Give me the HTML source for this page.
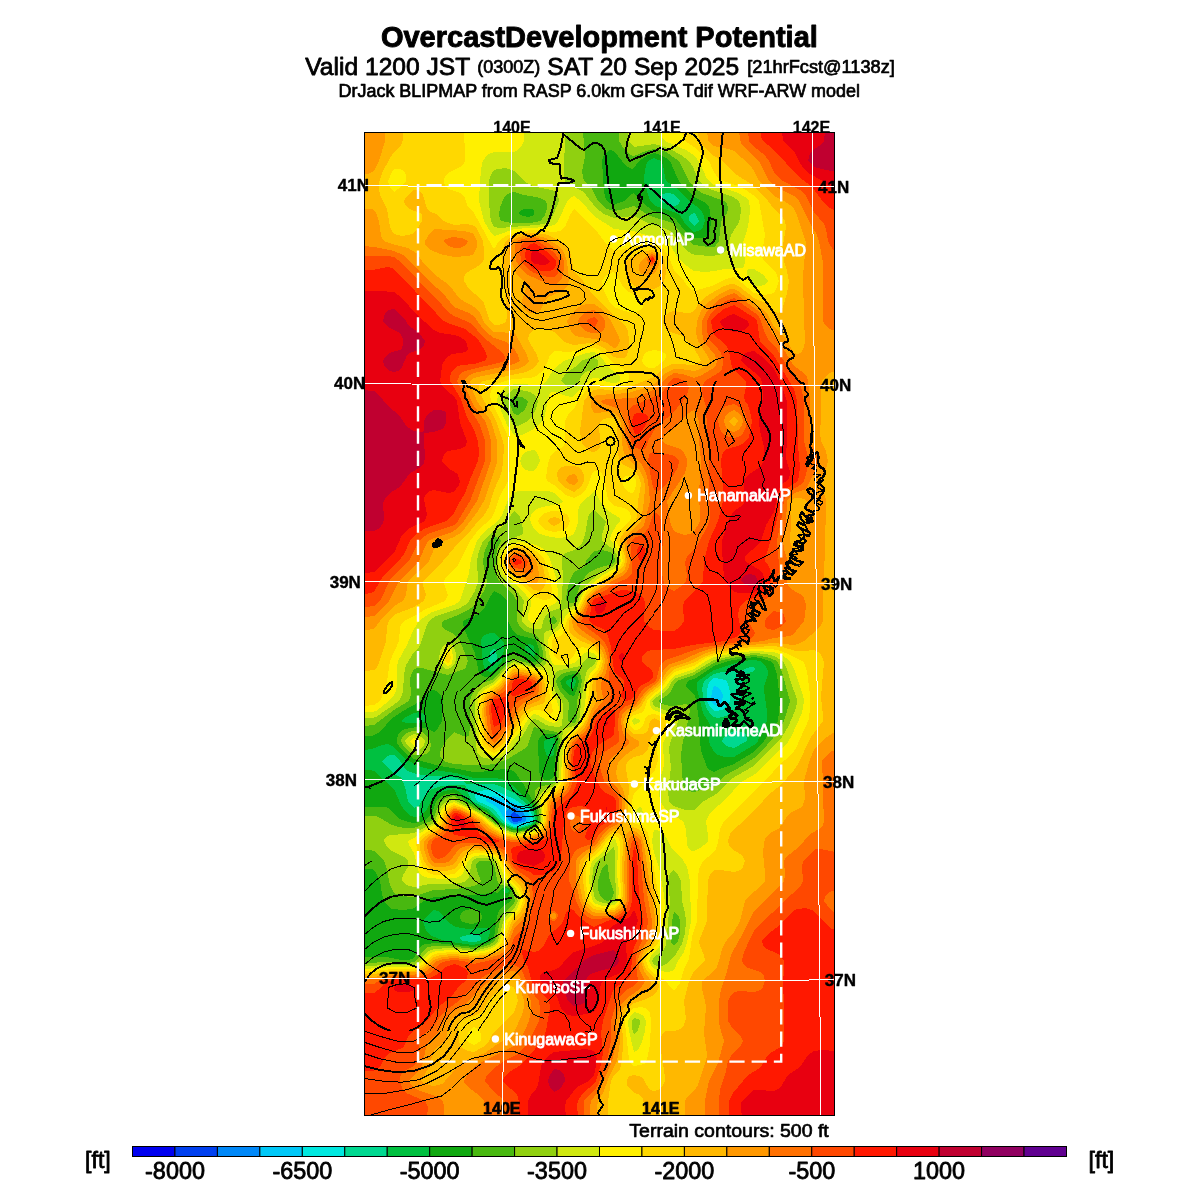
<!DOCTYPE html>
<html><head><meta charset="utf-8"><title>OvercastDevelopment Potential</title>
<style>
html,body{margin:0;padding:0;background:#fff;}
svg{display:block;font-family:"Liberation Sans",sans-serif;}
text{stroke-linejoin:round}
.k{stroke:#000}
</style></head>
<body>
<svg width="1200" height="1200" viewBox="0 0 1200 1200">
<rect width="1200" height="1200" fill="#fff"/>
<text class="k" stroke-width="0.9" x="380.9" y="46.6" font-size="30" font-weight="bold" textLength="437" lengthAdjust="spacingAndGlyphs">OvercastDevelopment Potential</text>
<text class="k" stroke-width="0.8" x="305.3" y="74.7" font-size="24.6">Valid 1200 JST</text>
<text class="k" stroke-width="0.7" x="477.3" y="73.3" font-size="18">(0300Z)</text>
<text class="k" stroke-width="0.8" x="547.3" y="74.7" font-size="24.6">SAT 20 Sep 2025</text>
<text class="k" stroke-width="0.7" x="747.3" y="73.3" font-size="18.2">[21hrFcst@1138z]</text>
<text class="k" stroke-width="0.7" x="338.5" y="97.4" font-size="18" textLength="521.5" lengthAdjust="spacingAndGlyphs">DrJack BLIPMAP from RASP 6.0km GFSA Tdif WRF-ARW model</text>
<text x="512.0" y="133.4" font-size="16" font-weight="bold" text-anchor="middle" class="k" stroke-width="0.3">140E</text>
<text x="662.0" y="133.4" font-size="16" font-weight="bold" text-anchor="middle" class="k" stroke-width="0.3">141E</text>
<text x="811.5" y="133.4" font-size="16" font-weight="bold" text-anchor="middle" class="k" stroke-width="0.3">142E</text>
<clipPath id="mapclip"><rect x="364" y="132" width="471" height="984"/></clipPath>
<g clip-path="url(#mapclip)" shape-rendering="crispEdges">
<rect x="364" y="131" width="472" height="985" fill="#0040f0"/>
<path fill="#0088f8" d="M364 131l472 0 0 986-472 0zM514 812l-2 1-1 2 0 2 1 4 2 1 7-1 1-2-2-3z"/>
<path fill="#00c8f8" d="M364 131l472 0 0 986-472 0zM508 809l-2 2 0 2 1 4 2 4 5 3 7-1 5-2 0-4-2-3-3-3-7-4z"/>
<path fill="#00e8e0" d="M364 131l472 0 0 986-472 0zM490 797l-4 2 0 2 6 3 5 3 9 14 2 1 6 3 4 0 6-1 6-3 0-4-2-4-4-4-4-3-6-3-20-7zM714 686l-2 5-1 8 0 2 3 4 2 0 4-2 2-2 1-6-3-6-3-2z"/>
<path fill="#00d890" d="M364 131l472 0 0 986-472 0zM480 791l-4 2-1 2 0 2 2 4 9 4 6 3 5 5 6 8 3 2 8 4 4 0 8-2 7-4-1-6-2-4-4-4-12-8-20-9-8 0zM714 678l-4 3-2 4-1 6 0 6 0 4 3 6 4 4 2 0 6-1 6-5 2-4 0-8-1-6-2-6-5-2z"/>
<path fill="#00c040" d="M364 131l472 0 0 986-472 0zM386 757l-4 4 1 2 8 8 3 3 6 3 2 2 3 8 3 14 6 7 4-2 2-2 6-10 6-5 10-3 12-1 8 0 2 0 2 2 3 8 3 6 16 8 5 4 7 8 6 4 8 3 6 0 10-3 5-4-1-8-4-6-16-14-12-6-8-3-28 0-2-3-10-4-24-1-14-2-6-2-4-2-6-9-6-6-4 0zM494 648l-2 2-2 3-2 8 2 2 4 2 3-4 0-4-1-6zM662 194l-2 3 0 4 4 2 10 3 3-1 2-2 1-2-6-7-6-1zM690 215l-1 2 0 4 5 5 2-1 3-4-3-6-2-2zM750 667l-10 4-18 1-8 2-10 7-2 8 2 12 3 8 5 7 2 1 4 1 8-2 6-4 6-7 3-4 0-16 2-8 3-3 8-3 1-2-1-2zM468 935l-8 2 0 2 2 2 12 1 6-1 1-2 0-2-3-2-4-1zM734 731l-8 4-2 2-2 4 4 5 4 1 4 1 13-7 0-2-1-4-2-2-4-1z"/>
<path fill="#10a810" d="M364 131l472 0 0 986-472 0 0-347 6 0 4 1 11 10 10 10 6 14 4 6 4 4 5 2 6-1 4-3 3-4 5-10 4-4 8-4 10-2 6 3 8 9 18 9 6 5 6 6 6 4 6 3 4 1 4 0 10-2 6-3 2-3 1-2-2-8-3-6-18-19-12-7-8-1-20 0-18-5-22-3-10-2-10-4-8-5-7-6-5-6-6-3-6 1-10 4-8 1zM414 713l-8 4-5 4 5 2 8 0 6 0 6-2 0-4-2-3-4-2zM490 633l-6 2-2 2-1 4 2 22 2 6 3 2 2 1 4-1 8-10 2-12 0-6-2-3-8-7zM526 645l-1 2 0 2 2 4 3 3 4 1 1-4-1-7-4-2zM548 739l-4 2 0 6 2 7 2 3 2 0 2-1 2-2 1-13-1-3zM570 679l-4 2 0 2 2 3 2 2 4 0 2-7-2-3zM648 161l-2 4-2 12 0 4 6 20 4 4 4 2 16 5 4 2 3 3 5 8 6 6 2 1 6-2 3-3 2-6-1-5-2-4-4-5-7-4-13-14-12-8-1-4-2-12-2-4-5-2-2-1zM742 661l-28 9-16 11-1 2 0 6 5 20 2 6 4 6 2 4-1 16 1 4 5 8 3 2 6 2 10 0 20-12 4-4 4-12 5-8 0-2 0-8-3-20 0-4 2-6 2-6 0-4-2-4-3-4-3-2-6-1zM428 915l-5 6 2 6 1 4 2 2 4 3 13 5 27 4 10-2 5-2 1-2 2-6 0-2-2-3-4 0-16 1-12-2-7-4-7-9-4-3-4-1zM506 888l-2 1-1 2 3 2 2 0 1-2-1-2z"/>
<path fill="#48b810" d="M364 131l472 0 0 986-472 0 0-160 22 0 16 3 6 0 6-2 6-11 2-2 4-1 10-1 38 4 8-2 6-2 4-2 2-3 3-21 2-6 3-4 9-6-3-4 3-6-1-2-4-2-5 2-3 4-4-1-10 2-50 3-10 4-10 7-2 1-10 1-8-1-2 0-5-4-3-5-2-6-2-13-4-8-2-3-2-1-8 0 0-62 16 0 6 0 4 2 7 8 5 3 6 2 6 1 10-2 4-3 4-5 4-11 4-5 6-3 8-1 6 3 5 5 21 11 9 9 6 4 11 5 8 1 10-3 5-3 3-4 0-2-1-8-3-7-10-19-7-10-3-4-4-1-6-1-24 3-6 0-16-3-18-3-26-7-8-5-5-5-4-6 0-4 2-6 3-3 8-2 8-1 10 2 6 3 2-1 2-3 4-7 1-20-2-6-5-4-2-1-2 0-4 2-7 9-18 10-9 6-5 4-6 8-5 4-6 3-8 0zM494 591l-4 6-5 10-3 4-4 3-15 7 0 2 1 6 11 24 4 20 3 3 4 1 4 0 4-2 12-14 4-6 4-4 11 8 5 2 4 1 4-1 1-4 0-8-3-8-2-2-16-4-3-2-3-4-4-8 0-20-8-7zM524 209l-4 2-1 2 1 2 4 1 4 1 4-1 2-2 0-3-2-2-4 0zM544 734l-4 3-2 4 1 30 1 4 2 3 2 2 4 0 4-1 2-3 1-15 3-20-1-4-3-3zM566 676l-4 3-2 2 1 2 1 4 4 5 4 3 4 1 3-7 2-8-1-3-2-3-2-1zM608 151l-4 4-2 6 2 30 1 6 2 4 5 3 2 1 2-1 8-3 6-6 4-2 9 10 9 7 22 8 3 3 8 10 7 6 2 1 8 0 4-1 2-1 2-5 1-10-1-10-1-4-3-4-12-6-15-16-3-6-5-12-3-4-8-4-6-2-2 1-4 1-6 4-3 2-5 7-2 1-4-2-2-1-12-15-4-1zM740 659l-12 2-14 5-18 12-8 3-2 4 0 2 8 7 2 5 3 22 1 20 1 10 6 16 1 2 4 2 2 1 8-4 12-4 20-12 10-11 14-20 1-10 1-10-3-26-3-10-4-4-10-3-6-1zM472 909l4 0 5 4 1 4-1 4-5 2-4 1-6-1-5-2-1-4 1-4 5-3z"/>
<path fill="#90d010" d="M364 131l219 0 2 26-3 14 1 6 1 4 8 8 6 12 4 4 5 4 7 2 6-1 14-4 16 10 6 2 11 3 5 2 2 2 10 12 10 8 14 2 6 0 2-2 3-4 2-18 1-4 5-6 1-4-1-6-3-2-22-8-6-4-7-8-10-20-13-9-6-2-6-1-8 2-12 5-4-1-6-6-5-8 0-10 217 0 0 986-472 0 0-154 26-1 17 1 7-1 2-1 8-11 4-3 6-1 14 0 26 3 8-2 7-2 6-4 2-6 3-14 3-6 3-4 8-7 1-3-3-12-4-3-7-1-3-2-1-4-2-10-1-5-4-3-4 0-6 0-3 2-1 2 1 6 4 10-3 3-4 2-18 3-22 1-22 7-10-1-6-2-2-1-3-6-2-6-2-12-3-8-10-10-4-1-6 0 0-34 12 0 6 3 8 5 8 3 8 1 8 0 17-7 3-3 3-9 3-6 6-5 8-2 11 7 17 9 14 12 10 5 6 3 4 0 8-1 8-2 4-3 4-5-1-10-4-12 0-8 1-2 3-2 13-3 2-1 2-2 1-6 0-14 3-20-1-6-3-3-22-5-6 18-2 3-12 7-6 4-8 3-6 2-8 1-16 0-16-1-8-2-2-1-4-4 0-4 1-4 5-8 6-7 2-2 2 1 10 4 2-1 1-1 1-8 0-26 2-6 4-8 4-3 14-5 12-14 8-6 20 6 6-2 3-2 0-10-4-12-3-4-11-4-5-4-3-6 0-20-3-5-15-15-2-4-2-8 1-10 1-10 4-8-1-2-4-2-2 0-5 4-5 12-1 10 4 18-2 8-7 12-4 5-6 4-10 5-15 6-1 2 0 4 2 2 10 5 6 7 8 20-2 6-2 2-16 6-4-1-22-6-4 0-4 1-2 4-2 6 1 16-2 6-15 9-20 15-10 1zM510 193l-4 2-2 3-4 9-1 8 1 4 1 2 11 2 18 0 10-2 2-2 3-4 2-6 0-4-1-4-4-2-6-2-12-2-10-3zM552 617l-3 4 1 2 4 1 3-3-1-2-2-3zM594 551l-8 10-1 4-3 3-8 4-2 4-3 7-2 8-1 8 1 2 1 1 2 1 4 0 1-2 5-16 5-8 3-4 10-5 14-4 2-1 1-2-1-6-4-3-8-2zM738 657l-16 3-8 3-20 12-17 6-3 4-4 8-4 3-8 5 4 3 8 2 4 0 12-2 2 1 1 2 1 4-2 10-3 14-2 6-2 14 2 30 2 4 3 2 6 1 20-6 12-11 16-9 12-8 8-7 5-6 12-14 5-10 6-20-9-32-4-8-7-3-10-2-6-1zM514 396l-4 5 0 4 4 9 4 1 4-3 3-3 2-4 1-4-6-4zM572 671l-8 2-4 2-2 2-2 4 2 6 2 4 8 10 1 2-1 14 0 4 2 1 4 1 2-2 1-4 0-16 3-10 2-10-1-4-1-4-4-2zM606 864l-4 5-2 5-2 7 0 8 1 4 2 4 3 3 4 1 4-2 2-6-5-16-1-11zM674 912l-2 9-1 16 0 6 3 3 4-5 2-8 0-8 0-4-1-4-3-4zM412 731l4 0 6 1 6 5 2 4 1 4-1 5-2 3-6 2-8 0-6-4-4-4-3-6 1-4 5-4z"/>
<path fill="#d0e810" d="M364 131l201 0-1 44 1 6 1 2 2 2 8 3 6 3 4 4 10 13 8 6 10 4 20-2 16 8 14 4 6 3 4 4 11 14 7 5 4 1 16 1 6-1 4-1 2-1 3-4 4-14 7-11 2-5 1-10-2-8-6-4-21-7-8-4-5-5-6-14-4-6-8-6-9-5-10-4-8-2-20 3-6-6 0-10 208 0 0 986-472 0 0-151 26-1 16 0 8 0 6-4 4-6 4-4 6-2 16-1 24 3 8-2 8-2 4-2 4-4 6-22 3-4 8-8 3-6-4-12-4-4-5-2-3-3-7-19-1-1-6-2-10 0-4 1-2 2-3 16-1 2-4 3-10 2-24 0-16 3-8-2-4-4 0-2 1-4 5-8 0-6-4-4-10-5-4-2-4-5-2-4 0-1 2-3 4-2 16-1 8-1 18-9 3-3 4-10 3-6 6-4 6-1 26 13 16 12 6 4 8 3 6 1 10-1 8-2 4-4 3-5 0-2 0-8-3-10 1-6 2-2 3-3 10-4 4-5 1-6 0-14 4-30 1-2 2-1 8-2 5-5 1-6 1-14 5-28 2-4 6-4 2-4-1-2-1-1-2-1-4 1-2 1-4 5-2 2-20 4-4 2-2 2-1 7 1 7 2 5 6 8 1 4 0 8-1 13-4 1-8-1-4-1-8-5-4-1-3 2-8 14-9 10-4 6-6 5-6 2-6 1-8-1-4-2-3-3-1-10-1-30 0-12 1-4 2-4 3-4 5-3 8-4 12-14 6-5 2-1 4 1 16 4 6 0 5-2 2-4-3-20 0-8 3-2 7-2 3-2 3-6 2-10 2-2 10-3 1-1 3-4 5-12 3-4 14-12 14-7 4-5-1-6-3-5-12-9 0-6 4-14-12-11-4 3-2 4-3 18-3 8-4 4-4 3-9 3-2 2-1 2 0 4 1 18-2 28-3 2-7 2-5 4-3 6-1 6-2 2-6 0-4-1-5-3-3-4 0-6 2-14-7-10-15-14-2-4-2-6 0-6 0-4 2-6 2-4 4-4 8-5 7-3 2-2 0-4-3-12-2-3-4-3-10 14-4 3-6 3-3 2-8 8-4 10-2 10 1 20-3 10-6 10-4 4-7 4-22 7-7 5-3 6-5 16-2 4-5 5-8 13-2 10-1 16-1 4-2 4-1 2-23 16-4 1-8 0zM498 169l-4 1-1 1-2 4-2 6 0 20 1 14 1 6 3 6 6 1 36-3 8-1 6-3 4-8 5-12-1-6-2-3-4-2-16-3-6-2-6-4-5-6-5-4-8-3zM586 359l-5 2-3 4-12 8-4 6-1 2 2 2 5 4 6 0 5-6 3-6 2-2 4-2 6-2 3-2 1-2 0-4-2-2-2-1-2-1zM634 1018l-2 3 0 2 0 5 2 6 2-1 2-3 2-7 0-2-2-2zM736 655l-22 5-20 12-18 6-4 3-3 6-3 4-12 8-2 2 2 5 18 7 4 4 2 4-2 8-6 14-1 6 2 18-3 24 1 10 3 4 4 2 10 3 8 0 10-9 14-8 13-14 21-12 14-13 16-17 6-10 7-16 2-8 0-4-6-16-4-14-4-8-9-5-8-2-12-1zM614 846l-9 9-8 6-3 5-1 3-1 12 2 15 3 5 7 2 6 1 4-2 1-1 1-2 0-8-1-16 0-22zM506 395l-3 6 3 10 5 10 3 5 4 0 4-2 4-2 6-6 4-7 2-8-3-6-5-3-10-2-6-1zM674 870l-4 3-2 8 2 20-4 44-3 6-9 6-2 4 2 4 4 1 4 0 4-2 10-10 6-10 3-11 1-12-1-8-3-12-1-20-3-6zM444 645l4-2 4 2 2 2 2 6 0 6-1 4-3 4-4 2-2 0-3-2-2-4-2-4 1-8zM414 734l4 1 3 2 3 3 1 1-1 4-3 4-3 1-4 1-4-3-3-3-2-4 3-4z"/>
<path fill="#fff000" d="M364 131l160 0 0 10-2 4-4 5-4 2-2 0-18 0-3 1-5 3-4 7-2 18-1 20 5 20 6 10 4 5 12-4 8-3 32-2 8-2 4-4 10-21 2-2 4-2 7 5 13 15 20 13 20 2 8 3 12 2 10 4 6 5 8 13 6 6 10 7 12 1 8-1 10-2 18-1 2-1 1-6-2-18 4-12 2-10 1-12-1-8-4-4-7-4-24-8-5-4-3-4-5-12-4-6-5-5-6-4-21-9-4-4 0-2 0-4 175 0 0 986-472 0 0-148 28-2 22 0 7-4 9-10 6-2 16-1 22 2 10-1 8-3 4-2 4-5 6-20 3-4 8-8 3-8-1-6-3-6-2-3-8-7-2-4-6-14-4-4-12-2-6 1-4 1-4 4-5 12-3 3-4 2-12 1-16-1-6-2-3-3-5-20-5-8-1-4 6-3 6-5 14-8 4-4 3-10 3-4 4-3 6-2 22 10 8 5 12 10 7 4 7 3 6 1 12-2 6-1 5-5 4-6-1-8-1-12 1-2 2-4 12-8 5-6 0-6 1-16 3-22 3-5 8-5 5-6 3-10 4-32 2-5 6-7 2-6-1-4-3-4-6-1-4 1-2 2-5 6-3 2-10 2-10 0-2-3-3-9-1-8 0-5 2-4 10-7 6-14 4-4 4-2 4-4 6-13 4-5 15-12 13-7 2-3 3-4-1-4-2-6-4-7-3-3-1-2 2-6 4-7 4-5 0-2-2-2-8-5-6-5-4-6-4-8-2-2-6 6-5 4-3 4-2 6 0 12-2 6-2 4-2 2-4 2-10 1-12-2-8-3-5-6-2-4-1-4 2-6 4-4 6-2 16-3 3-1 2-2-9-8-6-2-28 0-6 1-6 8-6 15-4 6-14 11-7 9-6 18-2 14-7 22-2 6-6 4-22 7-6 4-7 5-6 10-6 14-9 16-1 6 0 18-1 6-2 4-5 6-13 10-4 1-8 0zM586 353l-22 8-4 3-6 5-9 14-3 2-8 0-12-1-8 0-8 3-5 4-3 4-1 6 10 24 7 10 4 1 6-2 8-4 9-7 3-4 1-4 4-20 1-2 2-1 2 0 12 4 6 1 2-1 12-13 4-4 4-1 4 0 6 3 8 2 4 0 4-2 0-4-1-2-11-8-4-6-5-6-5-3zM634 718l-2 3 2 4 4-2 2-2-2-2zM640 807l-2 1-1 1-1 4 2 3 2 1 2-1 1-3-1-4zM748 269l-1 2 0 2 2 8 5 5 6 0 4-1 2-2 2-2-3-4-3-3-8-5zM612 840l-10 13-10 8-2 8-1 12 3 18 2 4 8 3 6 0 6-1 4-4 0-2 1-8-2-18 1-26-2-6-2-2zM528 451l-4 2-2 3-2 5 1 2 1 4 4 3 4 1 4 0 3-4 2-4 1-2-1-4-2-4-3-3zM634 1012l-4 5-2 4 0 2 1 8 5 21 2-1 2-1 4-8 3-11 1-10-2-4-2-2-4-2zM754 651l-20 2-20 4-8 4-12 8-18 6-4 3-8 11-10 7-4 5 0 4 2 4 14 6 2 2 3 4-1 8-7 14 0 4 1 14 0 4-2 8-3 8 0 6 0 6 1 8 4 6 4 5 15 9 3 8 1 16 2 4 3 2 2 0 6-3 4-3 4-4 0-6-2-14 4-8 18-16 10-12 5-4 9-5 6-4 16-17 12-10 5-8 11-24 2-12-1-6-8-24-5-10-8-6-8-3zM654 830l-1 5-1 6 2 12 5 14 5 28 1 8-1 18 0 14-2 8-3 4-7 7-3 7 2 4 3 4 6 2 8 1 4-1 2-1 4-9 6-9 3-9 4-22-1-40-3-14-5-9-10-9-5-10-3-5-4-3-4-1zM513 543l7-1 8 1 8 2 6 3 4 4 3 5 7 20 2 14-1 10-3 3-8 4-4 3-2 4-2 6-4 3-4-2-1-1-1-2 0-4 3-10 0-4-10-12-17-14-3-8-1-6 2-8 4-6zM446 649l2 0 2 0 2 2 1 6-1 6-2 2-2 1-2-1-2-2-1-4 0-6zM514 665l6 0 22 5 3 1 2 2 2 4 3 16 5 8 2 6 0 6-1 6 0 2-2 1-3 1-5-2-10-6-4-1-2 1-4 4-7 12-7 7-8 11-4 4-4 2-4 1-4-1-4-1-3-3-2-4-2-4-1-28 0-14 2-6 3-4 13-8 10-12 4-4zM414 738l5 3-1 2-2 2-2 1-3-3-1-2z"/>
<path fill="#ffd800" d="M364 131l100 0 1 24 0 6-2 4-3 2-10 5-4 3-2 4 0 4 2 4 2 2 12 4 4 3 4 11 6 6 18 33 2 3 5-8 2-2 7-4 6-2 8-2 12-1 20 2 6-1 5-4 5-12 4-6 4 3 20 21 9 12 7 5 6 0 18-5 10-1 6 0 8 4 3 3 3 4 6 15 10 11 4 6 4 3 2 1 14-4 6-2 12-6 8-2 8 6 12 10 10 2 6-1 4-1 3-6 2-6-2-6-2-4-11-10-2-4 0-4 2-12 1-6-5-28-1-6-6-6-7-5-8-4-15-5-5-3-4-6-5-11-15-14-9-6-2-4-1-6 154 0 0 986-472 0 0-146 10 0 18-2 22 0 8-4 10-10 6-2 16-1 20 2 10-1 10-3 4-3 4-5 6-19 3-4 9-10 3-8-1-6-3-6-11-12-8-17-6-5-10-2-10 0-4 2-4 3-6 11-6 5-8 1-12 0-6-2-5-6-6-16-1-10 6-6 14-8 4-6 3-8 2-4 5-3 4-2 10 4 10 5 7 4 9 8 6 4 8 4 8 3 10 0 10-2 6-3 3-4 3-6 0-20 4-6 11-8 4-6 0-22 3-18 4-6 10-8 4-6 4-20 2-20 2-5 6-7 3-8-2-6-5-5-12-3-5 2-4 8-3 2-6 2-6-1-2-2-2-3-2-8 0-6 2-3 6-2 3-3 5-15 11-11 7-14 3-4 16-12 11-6 5-6 2-4-1-4-1-6-5-10 0-4 4-7 10-9 1-4-1-4-2-3-4-2-10-2-5-5-2-6-3-17-2-4-3-3-5 0-2 3-3 9-3 6-6 6-6 3-8-3-12-10-7-4-1-4 2-13 3-9 3-3 9-5 2-4 0-22 2-4 2-4 5-4 4-8 6-8 5-6 5-3 20 3 10-2 5-4 0-6-2-4-5-3-8-4-11-11-5-4-4-1-6 0-18 4-16-1-4 4-2 6-4 8-4 4-4 3-6 2-16 1-6 1-6 2-7 3-2 2-2 4-1 4 1 6 8 16 11 24 0 4 0 24-2 12-8 15-5 15-3 6-3 4-8 6-5 6-6 8-12 24-13 14-1 2 0 2 4 12-2 4-1 2-19 8-12 7-10 5-2 2-2 4-1 14-9 20-3 20-5 16-2 4-6 4-10 1zM394 169l-2 3-4 9 2 6 4 5 4-3 5-4 3-4 0-2 0-4-2-4-4-2zM610 273l-4 2-4 6 2 10 5 10 5 6 10 4 10 2 6-3 3-3 1-6-18-11-4-5-4-8-4-5zM650 351l-4 1-2 3-2 6 2 4 2 2 4 1 4 0 10-7 2-4 0-2-2-2-4-2-6-1zM754 649l-20 2-20 4-8 3-12 8-20 6-4 4-8 11-12 10-3 4-3 10-3 2-7 2-3 2-2 4 2 6 3 3 2 0 3-1 3-2 2-4 2-6 2-2 6-1 4 1 4 2 4 4 0 4-1 4-7 10-1 4 0 6 1 12-2 6-2 5-6 5-6 8-8 8-2 8-1 14 1 7 2 1 10 4 2 3 2 3 12 72 1 16-1 18-2 4-10 12-2 6 1 2 1 4 4 5 14 9 4 6 4 3 3-3 3-4 4-14 5-10 3-22 5-16 1-44 1-8 2-4 2-4 10-8 3-4 2-6 2-14 4-8 11-10 17-18 17-16 8-10 15-13 4-6 13-29 1-12 0-12-3-24-3-8-2-2-14-7-10-4-8-1zM472 1028l-4 5-1 4 0 4 3 2 4 2 7-4 0-6-1-4-2-2-4-2zM608 840l-8 11-12 10-2 8 0 12 1 12 2 8 5 5 8 2 6 1 6-1 5-5 2-4 0-6-1-20 0-30-1-4-2-2-3-1zM626 476l-2 1-2 4 1 4 2 4 3 3 4 1 2-1 2-7 0-5-2-3-4-1zM634 1008l-4 3-3 4-2 4 0 4 4 36 1 4 4 3 6-1 4-1 2-2 1-3 3-14 1-24-1-8-3-4-5-2zM552 511l4 0 6 1 4 2 2 2 2 5-2 5-3 3-5 2-6 1-8-2-6-5-2-4 2-4 5-4zM516 545l8 0 8 3 7 5 5 6 3 8 4 14 1 12-1 4-1 2-6 1-10-3-12-12-14-10-3-4-2-4-1-6 2-6 4-6 4-3zM448 652l2 2 1 3-1 4-2 2-2-1-1-3 0-4zM511 669l3-2 8 1 16 4 6 3 3 6 6 30-1 2-2 1-7-3-5-1-4 0-4 2-5 5-7 12-14 18-6 4-4 2-2-1-6-3-3-4-1-4-2-26 0-14 2-4 3-4 13-9 8-10z"/>
<path fill="#ffb800" d="M364 131l39 0 0 8-1 4-2 4-6 5-4 6-8 15-3 10 0 6 1 6 7 14 3 18 2 4 2 3 8 2 6-1 4-1 2-1 3-4 5-8 0-6-2-2-6-2-6-3-3-3-1-4 2-4 4-4 4-3 2 0 4 1 3 4 4 14 2 2 7 3 8 7 4 2 6 2 12-1 6 1 2 1 3 3 6 12 1 10 0 8-1 2-3 4-14 8-2 4 0 4 5 8 11 9 4 5 6 18 4 4 4 0 6-2 2-2 1-4 0-8-2-14-1-14-2-20 1-12 2-6 1-2 2-2 8-4 10-2 10 0 8 1 6 2 12 6 4 3 4 6 4 20 9 10 7 10 9 10 7 6 8 9 11 9 3 6 1 10-1 10-1 4-3 3-6 0-4-1-10-9-8-4-6-1-16 2-4-1-7-3-9-9-2-1-10-3-8 1-4 4-2 6 2 4 7 12 1 4 1 2-4 6-3 2-6 3-42 9-2 0-2 2-1 4 1 6 4 8 8 12 4 8 7 20 1 6-1 14-1 10-3 8-5 11-5 17-5 8-9 10-8 10-7 6-17 20-20 20 0 4 3 10-2 6-10 6-18 7-4 3-3 4-2 6-1 14-7 22-2 4-3 3-8 1-2 0zM698 131l138 0 0 986-192 0 0-12-1-6-3-4-6-2-4-4-3-4 0-4 1-4 2-1 4-1 4 1 3 1 3 3 5 9 1 1 4 1 6-2 3-4 2-4 0-4-4-26-1-10 2-6 2-3 2-1 8 0 4-1 4-2 2-3 2-6-2-18 5-20 5-10 11-10-1-6-4-9-1-5 8-20 0-12 1-28 2-6 4-5 6 0 14 2 6-2 3-3 2-6-2-4-3-3-8-5-3-4-1-4 2-7 4-5 5-4 11-11 8-7 10-12 13-10 13-15 4-6 13-27 12-16 0-6-2-18 2-24 1-10-1-4-2-4-3-3-4-2-10 1-8 0-14-4-10-1-32 2-26 5-10 4-11 6-19 6-6 6-7 10-13 10-8 13-10 6-2 3-2 4 1 6 3 4 4 3 4 0 4 0 4-1 2-3 2-9 3-2 1-1 4 2 2 1 0 2 0 4-2 3-4 5-3 2-3 12-2 3-4 3-8 2-6 4-2 4 0 4 3 18-2 34 3 5 8 3 4 3 4 7 12 78 0 12-2 10-2 4-8 10-3 8 2 6 3 5 4 4 6 5 1 6-2 4-5 5-6 3-12 4-4 3-4 5-3 6-1 6 1 20-1 18-2 8-6 6-3 6-3 20 0 16-244 0 0-143 10 0 20-3 20 0 9-4 11-10 6-2 14-1 20 2 10-1 10-3 5-3 4-4 2-4 5-16 2-4 9-10 4-8-1-8-3-8-11-12-8-15-6-6-4-1-8-2-8-1-4 1-5 2-3 3-6 9-4 4-8 2-12 0-6-4-4-6-4-12 0-8 4-4 12-7 3-3 3-4 2-8 2-4 4-3 4-2 8 2 12 6 7 5 11 9 8 5 8 3 6 1 8 0 10-2 6-2 5-6 3-6 1-20 3-4 10-8 4-4 1-4 0-22 3-18 4-5 10-9 5-8 5-18 0-14 1-6 8-12 2-8-3-8-4-5-2-2-13-5-9-6-2-3-1-3 0-8 3-4 8-8 7-14 4-4 17-13 11-7 5-6 1-4 0-4-5-16 0-2 4-7 10-8 2-3 1-6 1-14 2-10 1-8-2-6-3-5-2-2-10-5-3-2-2-4-2-12 0-22-1-4-2-3-6 0-4 1-3 2-2 4 0 4 2 14-1 4-2 3-4 2-2 0-4-2-5-5-2-6-1-8 4-30 6-8 4-3 6-1 14 2 10-2 30-12 10-9 8-4 6 0 16 1 7-4-2-4-5-9-10-11-4-2-10-3-4-3-2-4-1-4 3-6 4-3 4-1 12 2 4 0 4-2 5-8 6-6 19-11 6-2 4 0 6 3 14 11 15 7 2 2 3 4 4 2 2-1 3-5 4-14 2-12-2-10-3-10-1-8 0-8 3-18-1-6-3-5-8-7-6-8-14-15-20-13-11-12-9-5-10-9-5-6zM506 987l-12 7-6 7-4 8-4 4-4 2-15 6-2 2-1 6 1 12 2 6 3 2 4 2 6 1 9-5 6-6 3-6 4-5 18-18 4-11-2-8-2-6-4-1zM614 832l-6 4-10 13-12 10-2 2-1 4 0 16 3 20 6 7 2 1 4 1 8 1 8-1 4-3 4-6 1-8-1-22 1-30-1-4-2-3-2-1zM645 251l7-1 4 1 5 4 4 6 1 12-2 8-4 5-6 3-12-1-8-2-5-5-3-8-1-6 1-6 9-6zM561 467l5-1 8 0 4 1 4 4 2 4 0 6-2 4-4 4-4 3-4-2-6-3-6-6-1-8 2-4zM554 517l4 1 3 3-1 2-4 2-2 1-3-1-4-4 2-2zM514 548l4-1 8 2 7 4 6 6 4 8 3 14-1 4-2 4-3 2-6-1-12-9-10-6-4-4-3-4-1-6 2-6 2-3zM514 669l2 0 8 1 12 4 6 3 2 4 1 4 1 8-1 8-3 3-10 3-6 4-4 4-5 10-13 18-5 4-5 3-6-4-3-5-3-26 1-14 3-6 14-10 7-10z"/>
<path fill="#ff9800" d="M364 131l21 0 0 10-6 20-5 10-6 3-4 0zM707 131l129 0 0 240-4 1-4 2-3 3-3 4-1 10 0 26-1 16 1 8 5 10 2 10-2 8-5 12 0 2 1 4 4 12 0 8-2 72-1 20 0 22-2 4-3 4-14 12-6 3-4 1-20-2-36 3-18 3-14 4-16 8-18 6-5 4-7 12-14 11-7 11-11 7-3 5-2 6 3 8 4 5 9 5 0 4-2 2-13 9-5 5-2 6-1 6 1 4 1 4 5 8 2 8 0 10-2 16-2 4-7 2-6 4-12 15-11 7-3 3-2 3-1 6 0 14 4 20 4 6 4 4 5 2 10 0 8-1 5-3 4-4 2-6-1-30 2-33 1-3 3-2 4 0 4 2 4 5 2 7 7 46 4 26 0 10-1 8-1 4-9 12-2 4-1 6 3 10 7 10 0 4-2 4-3 3-12 6-6 5-4 4-3 6-2 8 1 20-2 15-1 5-8 16-6 16-5 8-1 6 1 10-234 0 0-140 10 0 20-4 22-1 8-3 10-9 8-3 12-1 20 2 12-2 10-3 4-2 4-4 2-4 7-18 9-10 3-4 2-6 0-4 0-6-2-6-1-4-3-4-9-8-8-14-3-4-3-2-4-2-10-2-10-1-4 0-4 2-4 2-7 11-3 2-8 2-8 0-4-1-4-5-4-12 0-8 4-4 12-8 4-6 3-10 3-3 4-2 6 1 6 3 12 7 12 10 10 6 8 2 6 2 12-1 8-2 7-3 3-4 3-6 1-16 1-6 4-4 9-6 3-4 2-4 1-6-1-18 1-10 3-8 3-4 8-6 3-4 3-6 4-12 5-8-1-18 0-2 6-8 2-5 1-7-1-6-2-4-4-5-18-11-5-4-2-4-1-6 10-11 6-12 4-5 18-14 11-6 4-4 2-8-3-20 3-6 9-8 5-6 3-20 1-14-1-8-4-8-4-5-8-7-4-6-2-10-1-20-2-6-5-4-6-1-14 1-3-6 0-6 3-5 4-1 30-2 20-6 6-3 12-11 8-4 6 0 14 2 6-2 6-3 4-5-3-6-9-14-2-8 1-12 4-10 5-7 14-10 10-5 4 0 4 2 14 11 12 8 4 5 6 12 11 10 9 16 4 1 2-1 2-2 2-4 1-6-1-22-1-44 3-32-7-22-3-8-2-4-4-4-6-4-10-5-6-6-9-9-5-10-4-6-16-14-6-2-14-3-4-3-2-2 0-2zM506 978l-6 3-6 4-22 23-18 9-4 4-4 18-3 4-9 7-5 17-7 12-1 2 1 1 6 3 6 1 8-2 3-3 14-16 5-4 14-5 7-3 11-8 12-7 6-6 8-17 2-8 0-6-4-14-4-7-2-2zM734 416l-2 2-3 3 3 4 2 1 2-2 2-3zM794 498l-2 3-2 6 1 16-1 18 2 6 2 4 2 0 4-1 2-2 3-7 2-36 0-4-3-2-4-1zM364 209l8 0 2 1 2 3 3 8 2 14 1 4 2 2 8 3 16 4 8 5 2 2 4 6 12 13 15 11 11 14 16 9 4 5 4 9 6 7 4 3 2 0 18 1 2 2 10 18 3 8-3 4-8 4-41 8-3 1-4 3 2 8 5 12 14 20 6 20 0 12 0 10-13 38-6 10-16 21-8 5-10 4-4 2-6 6-5 12-3 4-18 16-2 14-3 6-9 5-4 4-10 11-6 8-8 1-2 0zM434 229l30 2 8 2 2 2 3 6 0 6-3 6-2 2-4 1-14 1-14-3-11-5-4-4 0-4 5-8zM530 235l8 1 8 2 11 7 5 4 3 6 2 6 2 18-1 6-3 4-5 3-12 5-3 4-4 8-3 3-4 1-4 0-4-2-3-4-1-6 4-12 1-4-2-4-5-3-4-5-5-12-2-8 0-6 2-6 8-4zM650 253l2-1 2 1 3 2 2 6 0 4-3 6-2 3-6 1-4 0-4-2-1-4 0-4 2-4zM582 305l6-1 6 0 6 4 5 5 6 8 8 16 1 4-2 4-1 2-3 1-7-5-7-3-6-1-14-2-4-1-4-3-3-6-2-6 4-6 5-6zM569 475l5-1 3 3 1 4-4 4-4-1-4-3 1-4zM514 550l4 0 6 1 6 4 5 4 2 4 2 10 0 6-1 3-4 2-10-6-10-4-4-4-2-3-2-6 2-6zM512 673l4-1 6 0 12 3 4 2 3 4 1 2 0 6 0 6-2 4-2 2-12 5-4 3-3 4-5 10-12 18-4 3-4 2-5-3-1-2-1-4-3-24 1-12 4-6 12-8 7-10zM833 733l3-1 0 385-151 0 0-16 2-4 7-6 4-6 8-24 1-6-3-22 2-26-1-6-3-12 0-4 0-4 12-10 3-4 2-6 3-12 3-6 4-6 5-5 6-11 4-16 2-6 4-4 10-8 5-6 0-8-2-20 1-10 1-4 5-6 8-4 2-2 8-12 4-3 8-4 3-3 2-6-1-18 6-22 4-9 2-3 8-8z"/>
<path fill="#ff7000" d="M739 131l97 0 0 200-4-1-4-2-3-3-2-4 0-58-4-22-2-6-7-12-11-22-5-5-20-10-5-5-10-20-13-12-5-6-1-4zM452 237l10 1 6 3-2 4-2 1-4 2-6 0-7-3-4-4 3-2zM522 239l12-2 6 2 8 4 8 6 4 4 4 8 0 8-2 9-4 5-4 2-8-2-18-8-7-6-5-8-1-12 0-4 2-4zM364 246l10 1 20 4 9 4 28 28 11 9 12 15 15 6 5 3 9 13 7 6 4 3 12 4 7 5 5 8 2 6-4 2-6 2-36 8-6 3-3 3-1 2 2 8 8 17 11 15 3 8 3 12 0 20-14 40-13 20-7 8-5 3-18 6-6 3-3 6-6 14-20 20-10 20-15 15-8 1-2 0zM650 255l2-1 2 1 2 2 1 4-3 4-2 1-2 0-2-3-1-4zM728 295l6-2 2 1 25 19 4 6 7 14 9 12 11 18 2 3 10 7 3 4 1 4 2 20 0 40 3 6 4 8 2 6-2 6-10 20-3 3-10 3-4 4-3 4-1 22-3 18 1 8 4 12-1 20 1 4 3 4 9 5 4 4 1 3 1 4-1 10-1 6-8 10-2 3-4 2-16 2-11 3-33 4-21 4-9 3-15 7-17 6-4 4-6 13-4 3-8 6-9 12-3 3-8 4-4 5-1 6 1 8 2 6 5 6 0 2-4 4-15 12-1 2-1 6 1 8 2 6 7 8 4 8 0 8-1 14-3 5-10 5-4 4-6 9-4 4-12 7-4 4-2 4 0 4 0 16 4 20 4 8 5 4 5 3 10 0 10-1 6-4 4-4 3-6 0-36 1-24 2-4 2-1 2-1 2 1 5 5 1 6 5 46 5 28 0 6-2 10-8 12-4 10 1 10 6 12-1 2-4 6-14 10-4 4-3 6-3 12 0 20-2 12-2 8-11 26-3 5-7 9-1 6 0 10-105 0 0-10-1-6-8-8-8-6-4-4 0-2 2-4 4-6 4-4 10-6 28-14 4-2 5-6 8-18 2-10 0-10-11-24-4-4-2-2-2 0-8 2-12 6-10 8-15 16-13 8-6 5-4 5-5 10-10 10-3 6-3 16-3 6-10 10-1 2 1 2 4 5 6 3 18 6 5 4 1 6 0 10-80 0 0-137 10-1 20-4 18 0 6-1 8-3 11-10 7-2 10-1 20 2 14-2 11-3 3-2 4-4 8-20 11-12 3-8 2-8 0-6-1-6-2-6-4-4-9-7-10-17-4-4-6-2-16-3-4-1-8 1-7 3-9 12-6 2-8 0-2 0-2-2-3-6-2-8 1-6 15-10 3-6 2-10 1-2 2-2 3-2 6 1 6 3 12 8 5 6 5 4 10 5 8 3 8 1 10 0 10-2 8-3 4-4 2-6 2-18 2-6 12-8 3-4 2-4 1-6-1-20 1-10 3-8 9-7 4-4 3-5 5-13 9-11 0-4-2-10 0-4 5-10 1-6 1-6-2-8-2-5-4-5-20-14-3-4-1-4 7-8 6-14 5-6 10-6 8-6 12-6 3-4 2-4 1-6-3-20 3-4 10-8 4-4 1-4 5-20-2-20-2-8-4-8-10-10-3-6-3-8-2-20-2-7-2-3-4-3-12-4-2-1-1-2 5-2 4 0 24-1 8-3 14-6 10-11 8-5 8 1 12 4 8-3 10-6 4-4 1-4-2-6-9-11-3-5-1-8 0-10 4-8 5-6 9-8zM728 413l-2 2-2 6 1 4 2 4 3 2 4 1 4-2 2-2 2-3 1-4-1-4-3-4-5-3zM552 913l-2 2 0 2 2 2 2 0 2-2 0-2-2-2zM692 411l-6 4-10 12-11 8-1 2-2 4 4 3 14 5 4 4 3 6 0 6-2 8-18 28 3 20 2 6 2 4 2 1 8 3 6-1 4-2 6-11 0-4-1-24 2-32-2-20 0-20-3-8-2-3zM588 311l6-1 6 4 4 5 1 2 0 6-1 2-2 3-4 1-6 0-7-2-4-4-3-6 1-2 3-4zM514 553l4 0 4 1 4 2 4 3 2 2 1 6 0 4-1 2-4 1-6-1-8-2-2-2-3-4-1-4 2-4zM513 675l3-1 4 0 14 3 5 4 0 4 0 6-2 4-3 3-10 5-5 4-8 16-13 17-4 3-2-2-2-2-2-8-2-20 1-10 5-5 10-7 6-9zM832 751l4-1 0 367-131 0 0-16 4-20 9-18 6-22-3-10-2-8 0-22 2-12 5-14 4-16 2-6 11-20 11-22 30-30 1-6-1-14 2-4 13-10 10-12 10-6 4-4 1-4 0-4-1-16 0-18-1-20 0-2 3-4z"/>
<path fill="#ff4800" d="M748 131l88 0 0 121-2-1-4-6-2-4-2-12-2-5-10-12-8-16-6-6-17-9-7-6-2-3-5-11-3-4-4-4-10-8-3-4zM525 241l9-1 4 1 14 10 4 4 4 6 0 4-2 8-4 4-6 0-14-4-6-4-4-4-3-4-1-10 1-6zM364 256l24 0 6 1 4 3 10 10 9 9 9 10 11 10 11 13 6 4 12 5 6 3 11 13 20 16 2 4 0 2-1 2-2 1-37 9-5 3-2 5-1 2 1 2 12 26 10 16 5 16 0 12 0 8-12 32-3 8-12 20-4 4-24 8-7 4-4 4-10 20-13 12-6 7-10 21-6 5-8 1-2 0zM649 257l3-1 2 1 1 4-1 2-2 1-2-1-1-2zM734 298l4 3 17 12 4 4 2 4 4 12 3 6 9 10 11 19 12 15 2 8 2 10 0 40 2 8 3 12 0 2-5 18-4 4-8 5-4 3-3 4-1 4-3 20-4 20 2 24-1 16-2 6-6 9-4 3-13 8-5 6 0 4 0 4 7 12-1 2-4 4-6 2-44 7-34 12-4 3-2 2-4 16-13 8-9 14-10 4-4 4-2 10 1 20-4 4-12 8-3 4-2 4 6 20 4 5 8 7 3 6 0 6-1 10-2 6-12 8-4 4-6 10-14 5-5 3-2 4-3 6-1 20 5 11 2 9 3 6 3 5 4 4 6 3 6 0 16-2 6-3 6-5 3-8 0-32 1-18 2-10 2-2 3 2 1 2 2 8 4 48 4 22-1 8-1 5-7 13-3 10 0 8 2 16-4 5-8 4-4 4-4 5-2 5-5 17 0 20-4 20-9 24-4 6-6 5-4 5 0 6 0 10-78 0 1-10-2-6-12-10-8-10 2-6 6-6 11-8 12-6 8-7 7-11 8-16 1-12-1-8-8-10-9-20-4-4-4-2-6 0-4 2-16 7-5 3-13 12-11 12-14 10-4 4-7 11-10 8-4 5-1 4 0 12-1 6-4 5-8 4-4 3-2 4 0 4 2 7 4 5 19 8 3 6 0 4-2 6-62 0 0-133 10 0 5-3 15-4 20 0 10-2 6-2 11-10 5-2 8-1 9 1 11 3 30-7 3-2 3-4 4-14 12-12 3-4 2-6 2-20-1-8-1-6-4-4-13-9-4-7-3-8-3-3-6-3-22-4-14 0-7 2-7 9-4 3-6 2-4-2-2-4-1-6 1-6 2-2 8-3 4-3 2-6 2-12 1-2 3-2 4 0 4 2 12 7 8 9 6 5 12 5 12 3 8 0 16-2 6-2 4-3 2-4 2-4 2-17 2-6 3-3 9-6 3-4 2-4 2-6-2-22 1-9 2-6 2-3 8-5 4-3 3-6 3-9 4-5 11-10 1-4 1-6-2-12 1-20-2-12-3-6-5-6-14-10-2-2-3-4 5-8 4-12 4-5 12-6 8-6 12-5 4-3 2-3 0-6-1-20 1-6 2-3 8-3 4-4 3-4 5-15 4 2 2 3 2 8 1 16-1 10-1 10 1 12 2 10 4 5 6 3 6-4 6-6 1-6-2-12 1-4 2-4 6-5 4-6 10-19 2-6-1-24 0-44-2-22-1-22-4-14 0-6 3-6 15-9 2-3 1-6 0-4-2-6-3-4-8-8-2-4-1-8 0-8 3-6 4-5 12-9zM552 911l-3 2-1 4 2 3 4 1 3-2 1-4-2-3-2-1zM574 815l-3 4-1 4 1 6 3 3 2-1 4-4 2-6-2-4-2-1zM726 406l-4 3-3 4-1 8 2 8 2 4 4 3 8 2 6-2 3-3 3-6 1-6-2-8-3-4-6-4-2-1zM594 317l4 4-2 4-2 2-4-2-3-4 1-2zM674 378l4 0 7 3 4 6-1 4-1 4-4 6-11 13-16 13-8 14-2 7-2 1-2 1-8-3-3-6-2-12-1-12 1-8 3-3 10-4 18-8 4-4 6-9zM650 453l4-1 18 3 4 2 3 4-1 6-4 7-10 13-6 4-4-1-2-7-4-22 1-6zM514 555l2 0 4 1 4 2 4 3-1 4-1 2-4 2-8-1-2-3-2-4zM771 613l3-2 4 1 4 1 2 2 2 6-3 4-3 2-6 3-6-1-2-1-1-3 0-4 3-5zM514 677l4-1 4 0 12 4 2 1 0 2 0 6-2 4-2 1-12 6-4 3-3 4-5 14-10 13-4 4-2-5-2-12-1-12 1-8 4-4 8-4 3-2 2-4 3-6zM813 851l3-2 4 0 16 3 0 38-4 1-4 2-3 4-1 4 6 8 4 4 2 0 0 204-117 0 0-16 1-12 5-14 3-14 5-8 7-6 3-6-3-6-7-6-5-8 0-10 0-10 3-6 3-3 6-1 14 1 3-1 3-1 3-3 2-6-1-5-2-3-4-2-10-3-4-3-2-4 1-6 6-14 5-10 3-4 5-5 10-9 12-12 16-14 3-6-1-14 1-6z"/>
<path fill="#ff1800" d="M761 131l75 0 0 79-2 0-4-2-6-5-12-16-14-11-12-13-18-18-5-4-2-4zM529 245l5-2 2 1 10 7 8 7 2 3 0 4-2 4-4 2-8 0-8-2-5-4-3-4-1-6 1-6zM652 257l2 2-1 2-1 1-1-1-1-2zM388 267l6 2 6 7 10 9 10 12 11 10 11 13 6 3 17 6 9 7 5 5 5 8 2 4 1 4-1 2-2 2-10 3-13 1-5 2-4 4-2 6 0 4 11 18 5 16 8 15 4 11 1 12-1 8-7 16-6 16-7 12-4 8-6 6-2 2-12 4-10 4-6 4-5 4-3 4-6 13-5 7-15 14-4 6-6 11-4 1-4 1-2 0 0-324 8 0zM734 305l19 12 4 4 3 20 14 15 2 3 18 30 3 12 1 44 2 22-1 8-1 6-12 8-3 4-2 6-5 24-11 36 0 2 3 4 2 4 1 6 0 6-3 6-5 6-7 4-11 4-4 4-2 4-1 6 3 16-2 4-3 2-11 4-33 4-18 4-22 1-4 1-3 2-3 4 0 4 2 3 8 6 1 3 0 4-3 4-8 4-3 2-5 10-4 3-4 1-2-1-2-2-1-3 3-10 0-4-1-2-7-5-2-3-3-24-3-11-2-4-3-3-9-4-5-4 3-18 2-4 2-1 14-4 4-2 8-2 12 1 7 4 3 4 1 4-1 16 0 2 3 4 7 5 12 1 8 0 6-4 4-6-1-14 1-6 15-14 4-6 1-20 5-20 9-20 5-20 0-12-2-28 1-6 2-4 3-2 11-3 6-3 5-6 2-10 1-6-2-10-2-6-3-4-1-4 2-10 0-6-13-12-2-6-2-12-2-4-3-4-10-8-2-8-1-6 3-4 10-8zM637 413l5 0 4 1 2 3 0 4-6 10-4 3-2 0-2-1-2-12 2-7zM638 547l2-2 2 1 2 1 1 2 1 8-2 4-2 1-2-1-2-4-1-6zM514 559l4 0 4 2 0 2-2 1-4 1-2-1-1-1 0-2zM515 679l7 0 9 2 1 2-1 4-1 2-4 3-12 4-2 0-1-3 1-8 1-4zM495 699l11-2 2 1 1 3-3 12-4 8-4 4-4 2-2-9-1-11 1-6zM610 711l4-1 1 3 0 8-1 13-4 4-10 6-4 3-4 6-2 8 1 6 10 22 3 3 10 5 2 4 0 8-2 8-4 4-10 5-2 3-4 7-3 3-3 1-2-1-1-2 5-16 0-6-2-6-3-2-5-1-6 1-4 1-4 5-2 8-3 36-2 8-5 6-12 4-8 0-4-3-10-4-6-5-1-2-1-4-1-8 3-2 30-7 6-3 2-6 2-19 4-5 13-10 2-4 4-10 0-4-3-9-1-9 1-10 4-6 12-8 2-4 4-11 2-3 6-5zM454 813l2 0 4 1 11 7 3 3 6 11 2 1 12 3 6 2-2 1-5 1-11-2-2-2-4-1-22-3-2-4-1-10 1-6zM634 846l2 5 1 4 2 40 4 26 0 4-2 8-6 12-2 6-1 8-1 12-1 5-4 5-10 6-3 4-10 30-2 12 2 18-1 10-6 20-2 3-11 9-4 6-2 6 1 12-59 0 0-14-1-6-2-4-10-8-3-4 1-4 4-4 14-9 20-23 2-4 2-6 4-24-1-6-1-2-13-12-3-4-4-16-4-6-2-8 0-3 8 1 4 1 4-1 3-2 3-4 5-10 12-10 2-4 3-8 2-3 2-1 4 1 3 5 3 3 10 7 4 2 13-6 11-3 8-4 4-5 2-8 0-40zM797 909l9-1 8 3 14 15 4 3 4 1 0 187-107 0 0-16 4-8 15-18 12-7 8-13 2-2 11-6 3-6 0-38-1-18 1-18 0-6-4-6-4-2-9-4-3-2-1-2-1-4 6-7 12-9 12-13 2-2zM454 964l4 1 8 4 2 4-1 4-1 4-6 4-6 8-8 8-8 6-11 14-16 12-3 4-4 9-2 2-10 4-4 2-3 3-5 10-4 3-4 1-8 0 0-78 10 0 4-3 11-9 3-1 6-1 22 0 10-1 6-3 10-8z"/>
<path fill="#e80010" d="M782 131l54 0 0 61-2-1-11-10-13-7-6-5-4-6-5-10-12-12zM532 251l2-1 3 1 6 4 7 6-2 3-4 1-10-1-3-3 0-2 0-4zM364 291l16 0 14 1 8 6 14 16 18 16 6 3 14 2 6 2 6 4 2 8-2 3-14 2-6 4-4 7-1 10-1 6 3 6 4 4 7 5 3 5 3 22 7 18-1 4-2 2-4 2-12 2-3 2-2 4-1 4 3 4 3 3 8 5 2 2 2 6-1 4-5 7-6 1-14-3-4 1-3 2-2 2-1 4 3 16-2 6-15 7-4 3-4 4-8 18-20 19-8 1-2 0zM730 315l4-1 14 7 1 4-1 2-4 3-10 2-10-4-3-3-1-4zM754 351l11 8 9 10 6 12 7 20 0 20 0 18-1 18 1 6 3 8 0 4-2 5-7 5-2 4-5 23-8 13-5 16-5 6-8 6-3 4 0 4 1 1 12 7 4 3 2 5 1 4-4 6-5 4-4 2-8 0-6 0-5-2-4-4-4-6-2-14-1-20 0-6 8-24 4-6 9-6 2-4-1-18 0-4 4-4 12-8 4-6 0-14-4-16-1-8 1-10 3-16-1-14-1-4-3-4-13-10-4-4 1-4 2-3 4-2zM599 601l6 0 1 4-1 4-1 2-3 2-3 1-2-1-1-4 1-5zM622 653l2 1 1 3-1 4-2 1-2-1-1-4 1-3zM496 707l2-1 1 1-1 3-2 1zM606 721l2 1 0 1-2 3-2-1 0-2zM606 807l1 0 0 2-1 1zM454 817l2-2 2 1 7 5 1 4-1 2-3 1-4-3-4-4zM529 849l9 0 5 2 2 4-1 6-10 5-10-2-7-3 0-4 1-4 3-2zM634 910l2 4 2 7-4 12-4 4-3 4-1 4 1 16-3 8-6 5-12 5-3 2-2 2-1 6-1 12-2 6-3 5-8 2-12 2-6-1-3-2-4-4-3-10-4-7-4-4-10-7 0-6 2-2 2-1 10-2 4-2 5-5 7-8 4-3 6-2 14-4 7-3 4-4 3-8 3-4 10-6 7-3 3-3zM397 985l5-1 7 1 4 2 1 2-2 2-4 1-10 0-3-1-1-2 0-2zM586 1049l8 2 2 4 1 6-3 14-5 6-12 6-11 14-1 6 1 10-38 0 0-16 3-6 5-6 2-4 3-18 2-6 5-5 6-4zM814 1051l8-1 14 1 0 66-94 0-1-8 0-6 1-2 6-6 6-5 6 0 12 1 2 0 4-2 4-4 6-10 12-8 8-12z"/>
<path fill="#c00030" d="M825 131l11 0 0 41-14-3-8-2-6-6 1-4 1-4 4-4 7-4 3-4zM394 309l5 4 7 8 2 4 11 8 6 8-1 4-4 4-4 2-7 2-2 2-5 12-4 4-4 1-4-1-3-2-3-4-1-4 2-4 2-2 5-3 8-2 2-2 1-3 0-6-2-4-3-3-10-5-5-6 1-4 1-4 3-3zM364 390l8 1 2 0 4 3 10 12 11 9 8 12 7 4 8 1 2-1 0-10 1-2 3-5 6-4 6 0 4 1 2 2 0 4 0 6-2 4-2 2-8 3-10 1 0 8 1 16-1 6-3 4-11 6-3 4-7 10-10 6-4 4-2 4-1 2 1 16-1 4-3 5-6 3-10 0zM746 575l4-1 4 1 2 2 2 4-4 5-4 0-4-1-5-4 2-4zM614 950l2 3 3 6 0 2-1 2-4 4-18 5-7 3-2 2-1 4 1 14 0 6-3 2-4 2-6 1-2-1-4-4-1-2-3-12-1-6 11-11 5-3 4-6 3-2 8-4zM554 1069l6 1 4 5 1 4 0 2-3 5-4 4-4 2-4-4-2-7 2-6z"/>
</g>
<g>
<circle cx="613.6" cy="239.0" r="3.7" fill="#fff"/>
<text x="622.5" y="244.7" font-size="16" fill="#fff" stroke="#fff" stroke-width="0.9">AomoriAP</text>
<circle cx="720.6" cy="250.0" r="3.7" fill="#fff"/>
<text x="729.5" y="255.7" font-size="16" fill="#fff" stroke="#fff" stroke-width="0.9">MisawaAD</text>
<circle cx="688.4" cy="495.4" r="3.7" fill="#fff"/>
<text x="697.3" y="501.1" font-size="16" fill="#fff" stroke="#fff" stroke-width="0.9">HanamakiAP</text>
<circle cx="656.4" cy="730.6" r="3.7" fill="#fff"/>
<text x="665.3" y="736.3" font-size="16" fill="#fff" stroke="#fff" stroke-width="0.9">KasuminomeAD</text>
<circle cx="634.4" cy="784.0" r="3.7" fill="#fff"/>
<text x="643.3" y="789.7" font-size="16" fill="#fff" stroke="#fff" stroke-width="0.9">KakudaGP</text>
<circle cx="571.0" cy="816.0" r="3.7" fill="#fff"/>
<text x="579.9" y="821.7" font-size="16" fill="#fff" stroke="#fff" stroke-width="0.9">FukushimaSP</text>
<circle cx="570.6" cy="933.4" r="3.7" fill="#fff"/>
<text x="579.5" y="939.1" font-size="16" fill="#fff" stroke="#fff" stroke-width="0.9">FukushimaAP</text>
<circle cx="506.4" cy="987.4" r="3.7" fill="#fff"/>
<text x="515.3" y="993.1" font-size="16" fill="#fff" stroke="#fff" stroke-width="0.9">KuroisoSF</text>
<circle cx="495.4" cy="1039.0" r="3.7" fill="#fff"/>
<text x="504.3" y="1044.7" font-size="16" fill="#fff" stroke="#fff" stroke-width="0.9">KinugawaGP</text>
<g clip-path="url(#mapclip)" shape-rendering="crispEdges" fill="none" stroke="#000" stroke-linejoin="round"><path d="M544.0,229.0 548.0,223.0 552.0,211.0 555.0,199.0 557.0,189.0 558.4,183.4 564.0,183.4 570.0,182.6 574.0,181.0 571.0,179.0 564.0,178.0 561.0,178.6 560.0,171.0 559.6,164.0 555.0,164.0 550.0,163.0 549.0,160.0 553.0,159.0 557.0,158.0 559.0,153.0 561.0,146.0 562.4,139.0 563.0,134.0 568.0,138.0 574.0,143.0 580.0,148.0 584.0,150.0 589.0,146.0 593.0,143.0 598.0,143.4 602.0,146.0 605.0,151.0 606.0,159.0 607.0,171.0 608.0,181.0 610.0,191.0 612.0,201.0 614.0,211.0 617.0,216.0 622.0,219.0 627.0,220.0 632.0,217.0 636.0,213.0 639.0,208.0 641.0,202.0 642.0,197.0 640.0,196.0 639.0,200.0 637.6,197.0 642.0,191.0 646.0,185.0 650.0,188.0 655.0,192.0 660.0,197.0 666.0,202.0 672.0,207.0 677.0,211.0 682.0,213.0 686.0,210.0 690.0,204.0 693.0,197.0 695.0,189.0 697.0,179.0 699.0,169.0 701.0,161.0 703.0,153.0 702.0,147.0 699.0,141.0 695.0,136.0 691.0,133.0 687.0,132.0 685.0,135.0 684.0,139.0 680.0,142.0 675.0,146.0 670.0,149.0 665.0,150.0 660.0,148.0 655.0,151.0 648.0,153.0 642.0,156.0 636.0,158.0 630.0,161.0 627.0,157.0 626.0,151.0 627.0,143.0 629.0,136.0 631.0,131.0" stroke-width="2.0"/>
<path d="M723.0,131.0 722.0,139.0 721.0,151.0 720.0,163.0 720.0,175.0 721.0,187.0 722.0,199.0 723.0,211.0 724.0,221.0 725.0,231.0 727.0,243.0 729.0,253.0 732.0,263.0 735.0,271.0 739.0,277.0 743.0,280.0 748.0,277.0 752.0,283.0 758.0,291.0 764.0,299.0 770.0,307.0 775.0,315.0 779.0,323.0 783.0,333.0" stroke-width="2.0"/>
<path d="M709.0,218.0 716.0,220.0 716.4,225.0 714.0,231.0 715.6,237.0 713.6,242.0 708.0,245.0 704.0,241.0 704.0,239.0 708.0,238.0 708.4,231.0 708.0,225.0Z" stroke-width="2.0"/>
<path d="M545.0,231.0 541.0,229.6 537.0,234.0 531.0,237.0 526.0,235.0 521.0,232.0 516.0,234.0 511.6,239.0 509.6,245.0 505.0,248.0 502.0,253.4 496.4,256.6 491.0,262.0 490.0,268.6 495.0,269.4 498.4,267.0 501.0,271.0 502.0,279.0 501.6,287.0 501.0,297.0 503.6,303.0 507.0,308.0 511.6,311.0 514.0,319.0 513.6,329.0 512.0,339.0 510.6,349.0 508.4,357.0 505.6,365.0 503.0,371.0" stroke-width="2.0"/>
<path d="M505.8,361.0 504.2,365.5 501.2,371.5 497.5,377.5 493.0,383.5 488.5,388.0 484.0,391.0 480.2,393.2 476.5,390.2 472.0,388.0 467.5,386.5 463.8,380.5 462.2,381.2 463.8,385.0 463.3,391.0 465.2,393.2 464.5,397.0 467.5,400.8 469.0,406.0 472.8,411.2 476.5,412.8 481.8,412.0 485.5,411.2 485.8,407.5 488.5,405.2 493.8,403.8 498.2,404.5 502.0,406.8 505.8,409.8 509.5,414.2 512.5,419.5 514.8,425.5 516.2,431.5 517.8,437.5 518.2,445.0 517.8,454.0 517.0,463.0 515.8,472.0 514.8,481.0 513.7,490.0 512.5,497.5 511.0,505.0 509.2,511.0 507.2,517.0 505.8,522.2 502.0,524.5 497.5,526.0 495.2,530.5 493.8,535.8 491.5,541.0" stroke-width="2.0"/>
<path d="M497.5,392.5 500.5,394.8 502.0,397.8 502.8,403.0 505.0,406.0 508.0,410.5" stroke-width="1.8"/>
<path d="M520.0,385.0 518.8,391.0 515.8,397.0 512.8,401.2 508.0,398.5 503.5,397.0 501.2,394.8 504.2,391.0" stroke-width="1.8"/>
<path d="M512.8,401.2 515.2,406.0 517.3,406.8 517.3,400.8" stroke-width="1.8"/>
<path d="M517.8,437.5 520.8,442.8 524.5,448.0 521.5,446.5 519.2,442.0" stroke-width="1.8"/>
<path d="M511.0,505.8 514.3,505.8" stroke-width="1.8"/>
<path d="M494.5,531.0 493.0,537.0 491.5,542.2 492.2,547.5 490.0,553.5 487.8,559.5 488.2,565.5 486.2,571.5 484.8,577.5 483.2,583.5 481.0,589.5 478.8,595.5 476.5,601.5 475.0,607.5 473.2,613.5 471.2,619.5 468.2,624.8 463.0,630.0 458.5,636.0 453.2,641.2 447.2,645.0 445.0,651.0 442.0,657.0 439.0,663.0 436.0,668.2 435.2,672.8 433.0,678.0 430.0,684.0 427.0,690.0 424.0,696.0 421.8,702.0 420.2,711.0" stroke-width="2.0"/>
<path d="M433.9,545.0 436.3,543.0 438.4,540.6 440.6,541.8 439.9,544.2 437.5,545.5 434.8,546.0Z" stroke-width="4.5"/>
<path d="M383.5,692.2 385.8,687.8 388.8,684.0 391.8,682.2 392.5,684.8 390.2,688.5 387.2,692.2 384.7,693.3Z" stroke-width="2.0"/>
<path d="M479.5,598.5 482.5,601.5 483.2,605.2 480.2,604.5" stroke-width="1.8"/>
<path d="M474.2,612.8 478.8,613.8" stroke-width="1.8"/>
<path d="M447.2,643.2 450.2,642.8" stroke-width="1.8"/>
<path d="M421.8,701.0 420.7,707.0 420.2,714.5 420.7,723.5 421.0,731.0 418.8,735.5 416.5,740.0 415.8,746.0 414.2,750.5 410.5,755.0 407.5,759.5 403.8,764.0 398.5,769.2 393.2,774.5 387.2,778.2 380.5,782.0 374.5,784.2 369.2,786.5 364.0,787.2" stroke-width="2.0"/>
<path d="M413.5,749.8 416.5,749.8" stroke-width="1.8"/>
<path d="M405.2,761.0 408.2,760.2" stroke-width="1.8"/>
<path d="M369.2,786.5 370.0,788.8" stroke-width="1.8"/>
<path d="M781.5,323.0 784.0,328.0 786.0,334.0 788.0,339.0 787.5,342.0 784.0,342.5 783.0,344.5 784.0,347.5 788.0,349.0 792.0,352.0 794.0,355.5 793.0,358.0 789.0,359.5 787.0,363.0 787.5,367.0 790.0,371.0 794.0,375.0 797.5,380.0 801.0,383.0 804.0,383.5 805.0,387.0 805.5,391.0 808.0,393.5 807.5,396.0 804.5,397.5 805.0,401.0 807.0,406.0 809.0,411.0 808.5,414.0 810.5,417.0 811.0,421.0 812.0,426.0 812.5,431.0 812.0,436.0 811.0,441.0" stroke-width="2.0"/>
<path d="M812.5,431.0 811.0,436.0 812.0,441.0 810.0,446.0 812.0,451.0 810.0,456.0 807.0,458.0 809.0,460.0 806.0,464.0 807.5,466.0 811.0,461.0 813.0,457.0 815.0,453.0 817.5,452.5 818.5,457.0 818.0,462.0 820.0,467.0 824.0,469.0 825.0,473.0 823.0,477.0 820.0,479.0 818.0,483.0 821.0,485.0 824.0,488.0 823.0,493.0 820.0,496.0 819.0,500.0 816.0,501.0 814.0,498.0 814.5,493.0 813.0,490.0 810.0,488.0 807.5,490.0 809.0,493.0 812.0,495.0 812.5,498.0 810.0,501.0 807.0,504.0 805.0,508.0 807.0,510.0 811.0,511.0 814.0,514.0 811.0,516.0 812.5,521.0 810.0,522.0 808.0,519.0 805.0,516.0 802.0,512.0 800.0,515.0 801.0,519.0 804.0,522.0 803.0,525.0 799.0,522.0 797.0,525.0 800.0,528.0 804.0,530.0 807.0,531.0 810.0,533.0 809.0,536.0 805.0,535.0 803.0,538.0 806.0,541.0 803.0,544.0 799.0,542.0 795.0,542.0 794.0,545.0 798.0,546.0 802.0,547.0 803.0,550.0 800.0,551.0" stroke-width="2.4"/>
<path d="M798.0,541.0 802.5,544.5 803.0,547.5 799.0,550.5 793.0,551.5 790.2,554.5 792.5,558.5 797.5,561.0 803.0,562.0 799.5,565.5 794.5,564.5 789.0,561.0 786.2,563.0 787.5,567.5 792.0,570.5 795.5,571.0 792.0,574.5 787.5,573.0 783.5,576.0 785.5,578.8 790.0,578.5 780.0,576.0 777.5,580.5 774.0,580.5 773.0,575.0 774.0,570.0 772.0,574.5 769.0,579.5 764.5,581.5 763.5,586.0 766.5,591.5 769.5,596.0 773.0,592.5 772.5,588.0 764.0,585.5 760.0,584.0 758.5,589.0 760.0,595.0 763.0,601.0 766.0,610.0 763.0,609.0 760.0,604.0 758.0,601.0 754.0,606.0 751.0,602.0 752.5,607.0 756.0,611.0 760.0,613.0 758.0,616.0 754.0,615.0 752.0,611.0 751.0,614.0 754.0,618.0 756.0,621.0 752.0,620.0 748.0,621.0 744.0,624.0 741.0,627.0 742.5,631.0 746.0,635.0 749.0,638.0 748.0,644.0 745.0,641.0 742.0,640.0 738.0,645.0 734.0,648.0 730.0,649.5 731.0,654.0 734.0,653.0 739.0,654.0 743.0,656.0 744.0,661.0" stroke-width="2.4"/>
<path d="M729.5,652.5 732.0,654.5 737.0,653.5 743.0,655.0 744.5,659.5 741.0,662.0 737.0,665.0 733.0,667.0 729.0,669.5 726.5,673.5 728.5,671.0 733.0,669.0 736.0,670.5 738.5,672.5 741.5,671.5 744.0,673.5 745.0,677.0 743.0,680.0 740.0,678.5 737.5,680.0 735.5,679.5 737.0,683.0 740.5,684.5 744.0,683.0 743.0,686.0 740.0,688.0 737.5,690.5 741.5,692.0 746.0,691.5 744.0,694.0 741.5,695.0 738.5,694.0 735.0,694.0 731.5,694.5 734.0,697.0 737.0,698.5 741.0,700.0 745.0,701.0 744.0,704.0 741.0,705.0 738.0,707.0 736.0,708.5 739.5,709.0 743.0,711.0 744.5,715.0 746.0,719.0 749.0,720.0 752.0,721.0 753.0,725.0 750.0,727.0 747.0,724.0 744.0,721.0 742.0,723.0 740.0,726.0 737.0,725.0 734.0,726.0 732.0,725.0 735.0,723.0 737.0,720.0 734.0,718.0 731.0,719.0 729.0,716.0 732.0,715.0 731.0,712.0 728.0,711.0 726.0,709.0 730.0,708.5 728.0,706.0 726.0,703.0 724.0,702.0 722.0,705.0 719.0,706.0 718.0,703.0 717.0,700.0 709.0,699.5 700.0,699.5" stroke-width="2.6"/>
<path d="M736.0,675.0 740.0,676.0 743.0,675.0" stroke-width="3.0"/>
<path d="M736.0,691.0 744.0,692.0" stroke-width="4.0"/>
<path d="M734.0,703.0 740.0,703.0 744.0,702.0" stroke-width="3.5"/>
<path d="M728.0,709.0 734.0,713.0 738.0,717.0" stroke-width="3.0"/>
<path d="M700.0,699.1 694.2,702.3 688.3,707.0 683.7,710.5 680.2,708.2 675.5,707.0 670.8,709.3 667.3,714.0 666.2,718.7 669.1,719.8 670.8,716.3 675.5,711.7 680.2,714.0 684.8,715.2 689.5,718.7 684.8,718.1 680.2,717.5 675.5,719.8 672.0,723.3 667.3,726.8 662.7,732.7 659.2,737.3 656.2,743.2 653.9,749.0 652.2,754.8 650.4,761.8 649.2,768.8 648.4,775.8 647.7,782.8 647.3,791.0" stroke-width="2.4"/>
<path d="M724.0,725.0 726.0,720.2 728.0,725.0Z" stroke-width="5.0"/>
<path d="M752.5,697.5 753.5,699.0" stroke-width="3.0"/>
<path d="M753.0,702.0 755.0,704.5" stroke-width="3.0"/>
<path d="M648.7,742.0 652.2,745.5 655.7,741.4" stroke-width="1.8"/>
<path d="M644.0,766.5 646.9,767.7 648.1,772.3 645.2,773.5" stroke-width="1.8"/>
<path d="M647.1,781.0 648.5,788.1 650.0,795.2 651.4,802.2 653.5,809.3 656.3,816.4 659.2,822.1 660.6,827.8 662.7,833.4 663.4,840.5 663.7,847.6 664.8,854.7 664.8,863.2 665.5,870.2 667.0,877.3 667.7,883.0 667.0,888.7 667.2,895.8 667.4,902.8 667.7,908.5 665.5,912.8 664.1,919.8 663.4,926.9 662.7,934.0 662.3,942.5 661.7,951.0" stroke-width="2.0"/>
<path d="M611.0,900.7 620.2,900.0 623.8,905.7 625.9,912.8 620.9,922.7 615.2,919.1 608.2,914.9 606.0,910.6 608.2,905.7Z" stroke-width="1.8"/>
<path d="M661.6,951.0 659.0,963.0 658.0,975.0 656.0,983.0 651.0,988.0 647.0,991.0 642.0,992.0 636.0,997.0 631.0,1000.0 628.0,1005.0 629.0,1011.0 624.0,1017.0 621.0,1025.0 618.0,1033.0 616.0,1041.0 613.0,1049.0 610.0,1057.0 606.0,1067.0 604.0,1071.0" stroke-width="2.0"/>
<path d="M600.0,1071.0 603.2,1079.0 598.0,1091.0 600.0,1101.0 603.2,1105.0 598.0,1113.0 600.0,1117.0" stroke-width="2.0"/>
<path d="M712.8,631.0 716.0,645.0 718.0,662.0" stroke-width="1.0"/>
<path d="M733.0,631.0 724.0,646.0 718.0,662.0" stroke-width="1.0"/>
<path d="M669.1,716.3 673.2,712.8 677.8,711.7 682.5,714.6 679.0,716.3 674.3,717.5" stroke-width="3.5"/>
<path d="M667.3,716.3 670.2,719.8" stroke-width="3.0"/>
<path d="M809.7,452.0 815.5,452.7 811.1,456.7 811.0,460.0 809.8,463.4 816.3,465.6 811.6,468.4 816.7,469.6 814.1,474.4 820.2,475.0 814.5,478.6 815.8,482.7 823.4,479.9 818.8,484.5 817.3,487.1 823.0,490.6 816.7,492.6 815.2,495.9 815.7,498.1 822.8,502.2 820.6,504.9 814.3,502.2 819.6,507.9 818.2,510.4 810.3,511.8 814.0,513.8 806.9,515.6 812.7,521.9 806.0,519.8 808.8,523.4 803.5,522.3 808.0,530.6 799.8,528.3 805.1,534.4 797.7,535.3 802.7,539.6 796.6,541.0 801.8,542.4 795.4,543.0 800.4,547.4 792.6,549.2 797.1,554.1 792.3,554.7 797.1,558.8 789.1,558.0 793.1,563.4 787.3,563.7 789.8,567.7 784.9,568.1 788.4,571.6 782.2,570.6 786.0,576.6 785.6,579.4 777.9,576.6 776.9,579.6 777.7,585.2 775.5,587.3 771.4,583.3 769.2,586.7 770.6,591.0 764.4,589.0 765.5,594.4 760.2,590.9 758.5,592.3 756.0,595.7 754.4,598.2 757.7,603.6 753.1,602.5 749.1,606.5 755.9,611.7 752.8,611.5 747.8,614.0 752.0,618.3 750.7,621.6 745.1,621.1 748.6,626.7 743.6,627.9 749.2,630.1 747.7,632.5 745.2,636.0 739.1,637.2 742.9,640.0 737.2,642.1 741.5,646.3 735.0,644.2 738.5,649.6" stroke-width="1.5"/>
<path d="M740.4,673.4 749.3,675.1 743.2,678.8 748.8,678.1 748.9,682.0 742.3,684.6 749.1,687.9 748.8,688.6 743.1,691.5 751.8,693.5 742.7,697.5 743.1,700.1 750.2,703.2 752.5,704.6 750.4,706.4 745.2,709.7 748.6,711.2 744.8,715.0 745.4,718.1 750.1,717.7" stroke-width="1.5"/>
<clipPath id="c0"><rect x="544" y="131" width="180" height="250"/></clipPath><g clip-path="url(#c0)"><path d="M544.0,241.5 550.8,240.3 557.5,240.0 563.5,243.8 568.8,249.0 570.2,259.5 571.8,269.2 579.2,273.0 589.0,276.0 598.0,275.2 601.8,267.0 604.8,258.0 607.0,249.0 610.0,242.2 616.0,238.5 622.0,237.0 628.0,232.5 634.0,225.8 641.5,217.5 649.0,213.8 655.8,212.2 662.5,213.0 669.2,216.0 673.8,222.0 676.0,229.5 676.8,238.5 677.5,250.5 679.0,261.0 683.5,271.5 688.8,280.5 694.0,288.0 697.0,297.0 698.5,303.0 707.5,309.0 716.5,306.0 724.0,304.5" stroke-width="1.0"/>
<path d="M544.0,249.0 551.5,248.7 557.5,249.8 560.5,255.0 559.8,262.5 557.5,269.2 563.5,274.5 572.5,279.8 581.5,284.2 590.5,288.0 598.8,291.0 604.0,285.0 608.5,276.0 610.8,267.0 612.2,258.0 615.2,250.5 620.5,246.0 628.0,241.5 634.0,236.2 640.0,230.2 646.0,225.8 652.8,223.5 658.8,225.8 664.0,231.0 667.0,238.5 668.5,249.0 667.8,259.5 667.0,267.0 671.5,276.0 676.0,285.0 679.8,291.8 677.5,300.0 675.2,312.0 674.5,324.0 679.0,330.0 684.2,336.0 685.0,341.2 691.0,345.0 697.0,348.0 706.0,342.0 710.5,334.5 718.0,330.0 724.0,328.5" stroke-width="1.0"/>
<path d="M544.0,282.8 553.0,285.0 562.0,284.2 571.0,285.0 580.0,288.0 584.5,292.5 585.2,300.0 580.0,304.5 571.0,306.0 562.0,308.2 553.0,310.5 544.0,312.0" stroke-width="1.0"/>
<path d="M544.0,297.0 548.5,292.5 556.0,291.0 563.5,290.6 568.0,291.8 568.8,295.5 562.0,298.5 554.5,300.8 548.5,302.2 544.0,303.0" stroke-width="1.9"/>
<path d="M544.0,320.2 559.0,316.5 575.5,312.8 593.5,312.0 601.0,312.0 610.0,315.0 620.5,319.5 628.0,321.0 634.0,324.0 635.5,331.5 634.0,342.0 628.0,348.8 619.0,351.0 610.0,352.5 599.5,354.0 590.5,358.5 586.0,366.0 582.2,372.0 568.0,372.0 559.0,373.5 550.0,369.0 544.0,366.8" stroke-width="1.0"/>
<path d="M544.0,330.0 556.0,328.5 568.0,326.2 578.5,324.0 588.2,323.2 595.0,328.5 601.0,333.8 599.5,340.5 592.0,345.0 583.0,348.8 575.5,352.5 572.5,360.0 569.5,366.0 566.5,371.2" stroke-width="1.0"/>
<path d="M586.0,381.0 590.5,372.0 596.5,367.5 604.0,366.0 613.0,364.5 622.0,365.2 631.0,364.5 637.0,358.5 638.5,351.0 640.0,342.0 643.0,331.5 644.5,322.5 641.5,317.2 635.5,312.8 626.5,309.0 619.0,304.5 616.0,297.0 614.5,289.5 616.0,279.0 617.5,268.5 619.0,259.5 623.5,253.5 631.0,247.5 640.0,243.0 647.5,241.5 655.0,243.8 660.2,249.0 662.5,258.0 661.8,267.0 659.5,276.0 662.5,283.5 668.5,291.0 667.0,303.0 665.5,312.0 664.0,321.0 667.0,328.5 671.5,339.0 674.5,349.5 676.0,357.0 686.5,360.0 697.0,363.8 706.0,366.0 715.0,360.0 724.0,357.0" stroke-width="1.0"/>
<path d="M625.0,261.0 628.0,255.8 634.0,250.5 641.5,246.8 649.0,245.2 655.0,247.5 657.2,253.5 656.5,261.0 653.5,268.5 649.0,276.0 644.5,282.0 640.0,286.5 634.0,289.5 631.0,288.0 628.8,280.5 626.5,271.5Z" stroke-width="1.9"/>
<path d="M634.0,291.0 640.0,288.8 647.5,288.8 652.0,291.0 654.2,295.5 652.0,298.5 649.8,297.0 648.2,300.0 646.0,298.5 643.8,301.5 641.5,304.5 638.5,301.5 636.2,297.0Z" stroke-width="1.9"/>
<path d="M631.0,261.0 635.5,255.0 642.2,250.5 647.5,255.0 650.5,261.0 647.5,268.5 643.0,276.0 637.0,274.5 632.5,271.5Z" stroke-width="1.0"/>
<path d="M599.5,381.0 607.0,376.5 616.0,373.5 628.0,372.0 640.0,372.0 652.0,373.5 658.0,378.0 659.5,381.0" stroke-width="1.9"/></g>
<clipPath id="c1"><rect x="364" y="131" width="180" height="269"/></clipPath><g clip-path="url(#c1)"><path d="M604.0,261.0 601.5,268.5 599.0,275.4 589.0,276.0 579.0,272.9 571.5,269.8 570.2,259.8 569.0,249.8 564.0,244.8 556.5,239.8 546.5,240.4 536.5,241.0 525.2,241.6 513.4,242.9 507.8,247.2 504.0,256.0 502.8,266.0 504.0,277.2 504.6,287.2 507.1,297.2 510.9,306.0 516.5,313.5 525.2,322.2 534.0,329.1 544.0,328.5 554.0,327.2 564.0,325.4 574.0,324.1 582.8,324.1 588.4,323.5 595.2,329.8 601.5,334.8 599.0,339.8 594.0,344.8 586.5,347.2 579.0,351.0 574.0,358.5 571.5,366.0 565.2,371.0 557.8,373.5 550.2,369.8 545.9,367.9 543.4,374.8 542.1,381.0" stroke-width="1.0"/>
<path d="M604.0,287.2 599.0,291.0 594.0,287.2 584.0,282.2 574.0,278.5 564.0,274.8 556.5,271.0 559.0,266.0 561.5,258.5 560.2,251.0 556.5,247.9 544.0,249.1 534.0,251.0 524.0,248.5 516.5,253.5 510.9,262.2 507.8,272.2 507.1,283.5 509.0,293.5 514.0,303.5 521.5,311.0 529.0,317.2 536.5,319.8 545.2,320.4 554.0,318.5 564.0,316.0 574.0,314.1 584.0,312.2 594.0,311.6 604.0,313.5" stroke-width="1.0"/>
<path d="M524.6,260.4 531.5,264.8 537.8,271.0 541.5,277.2 545.2,282.2 551.5,283.5 561.5,284.8 571.5,286.6 579.0,289.8 584.0,294.8 585.2,302.2 576.5,306.0 566.5,308.5 556.5,309.8 546.5,311.6 536.5,313.5 529.0,309.8 521.5,303.5 515.2,298.5 512.1,291.0 512.1,281.0 513.4,272.2 519.0,266.0Z" stroke-width="1.0"/>
<path d="M524.6,282.2 529.0,287.2 534.0,293.5 534.6,296.6 545.2,296.0 546.5,292.2 556.5,291.0 567.8,291.0 570.2,292.9 566.5,296.6 559.0,299.8 554.0,302.9 544.0,303.5 534.0,302.9 526.5,296.0 521.5,291.0Z" stroke-width="1.9"/>
<path d="M604.0,354.1 596.5,356.0 590.2,359.8 586.5,366.0 582.8,373.5 579.0,381.0" stroke-width="1.0"/>
<path d="M604.0,365.4 597.8,367.2 592.8,372.2 587.8,381.0" stroke-width="1.0"/></g>
<clipPath id="c2"><rect x="664" y="381" width="180" height="80"/><rect x="724" y="281" width="120" height="100"/></clipPath><g clip-path="url(#c2)"><path d="M689.5,281.0 692.5,287.0 696.2,294.5 697.8,302.0 707.5,308.8 718.0,305.8 730.0,302.0 740.5,300.5 749.5,299.8 755.5,304.2 760.0,309.5 764.5,317.0 769.0,324.5 773.5,332.0 777.2,339.5 780.2,345.5" stroke-width="1.0"/>
<path d="M676.0,281.0 679.0,290.0 676.8,300.5 674.5,311.0 675.2,323.0 683.5,335.0 685.0,341.0 695.5,347.8 706.0,344.0 710.5,336.5 716.5,329.8 727.0,329.0 739.0,331.2 749.5,334.2 754.0,341.0 760.0,348.5 767.5,356.0 773.5,363.5 778.0,371.0 782.5,378.5 787.0,386.0 791.5,395.0 794.5,405.5 796.0,416.0 796.8,425.0 796.0,437.0 794.5,449.0 793.0,461.0" stroke-width="1.0"/>
<path d="M664.0,287.0 668.5,293.0 667.8,305.0 664.0,314.0" stroke-width="1.0"/>
<path d="M664.0,324.5 670.0,335.0 674.5,345.5 675.2,357.5 685.0,360.5 695.5,364.2 706.0,365.8 713.5,360.5 721.0,354.5 727.0,350.8 739.0,353.0 748.0,357.5 755.5,362.0 763.0,369.5 769.0,377.0 773.5,384.5 776.5,393.5 778.0,404.0 780.2,416.0 782.5,425.0 784.0,437.0 782.5,449.0 781.8,461.0" stroke-width="1.0"/>
<path d="M710.5,461.0 709.8,452.0 709.0,443.0 706.8,434.0 704.5,425.0 703.8,416.0 707.5,408.5 712.0,399.5 712.8,389.0 715.8,380.8 724.0,375.5 731.5,371.0 739.0,368.0 746.5,371.0 752.5,377.0 758.5,384.5 761.5,392.0 761.5,401.0 758.5,410.0 761.5,419.0 767.5,428.0 770.5,435.5 769.0,446.0 766.0,453.5 763.0,461.0" stroke-width="1.9"/>
<path d="M718.8,461.0 718.0,452.0 716.5,443.0 713.5,432.5 715.0,422.0 719.5,413.0 724.0,404.0 727.0,396.5 739.0,401.0 742.0,410.0 745.8,420.5 751.0,431.0 754.0,438.5 749.5,446.0 743.5,453.5 742.0,461.0" stroke-width="1.0"/>
<path d="M727.8,429.5 731.5,435.5 734.5,441.5 728.5,446.0 724.8,438.5Z" stroke-width="1.0"/>
<path d="M664.0,428.0 670.0,422.0 671.5,416.0 670.0,405.5 667.0,395.0 668.5,387.5 679.0,383.0 688.0,380.8 695.5,380.0 700.0,386.0 701.5,395.0 698.5,404.0 695.5,413.0 694.8,420.5 698.5,431.0 702.2,443.0 703.8,452.0 704.5,461.0" stroke-width="1.0"/>
<path d="M664.0,435.5 673.0,428.0 682.0,420.5 682.8,416.0 682.0,405.5 679.8,399.5 684.2,395.8 688.0,399.5 686.5,405.5 686.5,416.0 688.0,423.5 691.8,434.0 694.8,443.0 696.2,452.0 696.7,461.0" stroke-width="1.0"/></g>
<clipPath id="c3"><rect x="514" y="381" width="150" height="150"/><rect x="664" y="461" width="30" height="70"/></clipPath><g clip-path="url(#c3)"><path d="M578.5,351.0 574.0,357.0 569.5,366.0 565.0,372.0 557.5,372.8 546.2,367.5 543.2,375.0 541.0,384.0 538.8,394.5 534.2,403.5 532.0,412.5 533.5,421.5 538.0,430.5 547.0,436.5 554.5,444.0 560.5,451.5 565.0,459.0 571.0,462.8 578.5,465.0 587.5,462.0 595.0,462.8 598.0,469.5 599.5,478.5 596.5,487.5 595.0,496.5 594.2,507.0 593.5,519.0 593.5,531.0" stroke-width="1.0"/>
<path d="M622.0,351.0 617.5,354.0 610.0,355.5 601.0,357.0 593.5,360.0 587.5,366.0 584.5,373.5 580.0,381.0 574.0,386.2 565.0,390.0 556.0,393.8 550.0,397.5 544.0,405.0 541.8,415.5 544.0,426.0 551.5,433.5 560.5,438.0 568.0,444.0 574.0,450.0 578.5,453.0 586.0,450.0 595.0,445.5 604.0,441.8 607.0,441.0" stroke-width="1.0"/>
<path d="M638.5,351.0 637.0,358.5 631.0,364.5 622.0,366.0 611.5,366.0 601.0,366.8 593.5,372.0 587.5,378.8 583.0,387.0 580.0,394.5 577.0,400.5 568.0,402.8 559.0,405.0 553.0,411.0 550.8,418.5 556.0,426.0 565.0,430.5 572.5,436.5 578.5,441.0 584.5,438.0 592.0,432.0 599.5,424.5 605.5,424.5 611.5,427.5 616.0,436.5 619.0,442.5 617.5,450.0 613.0,459.0 611.5,468.0 612.2,477.0 613.8,486.0 614.5,495.0 622.0,499.5 631.0,505.5 637.0,511.5 643.0,516.0 634.0,523.5 626.5,531.0" stroke-width="1.0"/>
<path d="M588.2,386.2 595.0,381.0 604.0,378.0 613.0,375.8 622.0,374.2 632.5,373.5 643.0,372.0 652.0,373.5 658.0,378.0 659.5,385.5 660.2,396.0 662.5,403.5 665.5,408.8 662.5,415.5 661.8,423.0 653.5,427.5 646.0,432.8 640.0,439.5 635.5,441.0 632.5,449.2 629.5,442.5 625.0,435.0 619.0,426.0 614.5,417.0 610.0,411.0 602.5,408.0 596.5,403.5 590.5,396.0Z" stroke-width="1.9"/>
<path d="M613.0,387.8 622.0,383.2 632.5,381.0 643.0,379.5 650.5,382.5 655.0,390.0 656.5,399.0 658.0,408.0 659.5,415.5 656.5,421.5 649.0,426.0 641.5,433.5 634.0,437.2 629.5,432.0 625.0,423.0 620.5,414.0 617.5,406.5 614.5,397.5Z" stroke-width="1.0"/>
<path d="M627.2,389.2 635.5,387.0 643.0,386.2 647.5,390.0 649.8,397.5 653.5,406.5 654.2,414.0 649.0,420.0 641.5,423.8 632.5,426.8 629.5,418.5 628.0,409.5 627.2,399.0Z" stroke-width="1.0"/>
<path d="M637.0,399.0 642.2,394.5 645.2,399.0 643.8,408.0 642.2,412.5 639.2,406.5Z" stroke-width="1.0"/>
<path d="M614.6,441.4 614.1,443.6 612.5,445.1 610.5,445.6 608.4,445.1 606.8,443.6 606.2,441.4 606.8,439.4 608.4,437.8 610.5,437.2 612.5,437.8 614.1,439.4Z" stroke-width="1.9"/>
<path d="M632.5,449.2 632.5,454.5 635.5,460.5 636.2,468.0 633.2,475.5 628.0,480.0 621.2,481.5 618.2,475.5 617.5,468.0 619.8,460.5 625.0,456.8 632.5,454.5" stroke-width="1.9"/>
<path d="M610.5,445.5 610.0,454.5 607.0,463.5 605.5,472.5 604.0,483.0 602.5,493.5 602.5,504.0 605.5,513.0 607.8,522.0 608.5,531.0" stroke-width="1.0"/>
<path d="M674.5,351.0 675.2,357.0 683.5,359.2 694.0,361.5" stroke-width="1.0"/>
<path d="M673.0,382.5 679.0,381.0 694.0,381.0" stroke-width="1.9"/>
<path d="M662.5,438.0 655.0,441.0 652.8,447.0 653.5,453.0 662.5,453.0 667.0,459.0 671.5,463.5 672.2,471.0 670.0,481.5 667.0,490.5 664.0,499.5 658.0,507.0 649.0,514.5 643.0,516.0" stroke-width="1.0"/>
<path d="M679.8,399.8 684.2,395.2 688.8,399.8 686.5,408.0 688.0,420.0 690.2,432.0 694.0,444.0" stroke-width="1.0"/>
<path d="M646.0,441.0 641.5,450.0 644.5,459.0 650.5,466.5 658.8,472.5 657.2,486.0 655.0,501.0 654.2,516.0 655.8,531.0" stroke-width="1.0"/>
<path d="M514.0,525.0 523.0,522.0 528.2,514.5 529.0,505.5 535.0,496.5 544.0,498.8 553.0,502.5 559.0,505.5 562.0,514.5 563.5,523.5 563.5,531.0" stroke-width="1.0"/>
<path d="M664.0,531.0 665.5,520.5 668.5,511.5 673.0,502.5 677.5,495.0 682.0,486.0 684.2,477.8 687.2,486.0 689.5,495.0 689.5,507.0 691.0,519.0 691.8,531.0" stroke-width="1.0"/></g>
<clipPath id="c4"><rect x="694" y="461" width="150" height="170"/><rect x="654" y="531" width="40" height="100"/></clipPath><g clip-path="url(#c4)"><path d="M697.0,451.0 698.5,460.0 700.0,470.5 703.0,481.0 705.2,491.5 707.5,502.0 709.0,512.5 706.0,523.0 698.5,535.0 696.2,544.0 694.0,553.0 691.0,562.0 688.8,571.0 689.5,580.0 694.0,587.5 703.0,591.2 707.5,595.0 709.8,604.0 711.2,613.0 712.0,622.0 712.8,631.0" stroke-width="1.0"/>
<path d="M703.0,451.0 705.2,461.5 709.0,473.5 713.5,485.5 717.2,497.5 720.2,508.0 724.0,514.0 727.8,517.0 739.0,515.5 740.5,516.2 737.5,520.0 730.0,520.8 726.2,523.0 725.5,529.0 721.0,535.0 716.5,541.0 715.0,547.0 716.5,554.5 719.5,560.5 727.0,562.8 733.0,559.0 736.0,553.0 737.5,547.0 745.0,541.0 749.5,538.0 758.5,540.2 766.0,541.0 770.5,539.5 772.0,532.0 773.5,523.0 775.8,514.0 778.0,503.5 779.5,493.0" stroke-width="1.0"/>
<path d="M708.2,451.0 712.0,463.0 718.0,473.5 722.5,481.0 728.5,486.2 736.0,486.2 742.8,484.8 743.5,478.0 745.8,470.5 744.2,461.5 742.8,451.0" stroke-width="1.0"/>
<path d="M764.5,451.0 760.0,457.0 758.5,463.0 761.5,470.5 764.5,479.5 762.2,485.5 766.0,491.5" stroke-width="1.0"/>
<path d="M795.2,451.0 794.5,463.0 793.0,475.0 792.2,487.0 791.5,499.0 790.0,511.0 787.0,523.0 784.0,535.0 781.8,542.5 778.0,548.5 769.0,554.5 760.0,559.0 752.5,562.8 748.0,566.5 745.8,571.0 739.0,578.5 730.0,583.0 730.8,592.0 730.0,601.0 731.5,610.0 732.2,620.5 733.0,631.0" stroke-width="1.0"/>
<path d="M703.8,556.0 706.0,565.0 709.8,570.2 718.0,573.2 723.2,577.8 727.8,583.0" stroke-width="1.0"/>
<path d="M695.5,535.0 691.0,527.5 689.5,518.5 688.8,508.0 688.0,496.0 686.5,485.5 684.2,478.0 682.0,487.0 676.0,496.0 670.0,505.0 665.5,515.5 666.2,526.0 669.2,536.5 670.0,547.0 669.2,559.0 668.5,571.0 669.2,583.0 666.2,593.5 662.5,602.5 656.5,610.0 649.0,617.5 644.5,625.0 643.0,631.0" stroke-width="1.0"/>
<path d="M652.0,451.0 653.5,460.0 658.0,470.5 658.8,473.5 656.5,484.0 653.5,494.5 650.5,505.0 644.5,512.5 640.0,517.0 634.0,521.5" stroke-width="1.0"/>
<path d="M641.5,451.0 644.5,460.0 649.0,467.5 658.0,472.8" stroke-width="1.0"/>
<path d="M671.5,451.0 672.2,460.0 671.5,469.0 668.5,479.5 664.0,490.0 658.0,500.5 655.0,511.0 655.0,521.5 658.0,532.0 660.2,541.0 658.8,553.0 657.2,565.0 658.0,577.0 656.5,589.0 652.8,598.0" stroke-width="1.0"/>
<path d="M743.5,631.0 745.8,616.0 748.0,604.0 751.0,595.0 754.0,587.5 758.5,581.5 764.5,578.5" stroke-width="1.0"/></g>
<clipPath id="c5"><rect x="474" y="531" width="180" height="160"/></clipPath><g clip-path="url(#c5)"><path d="M514.5,548.5 523.5,551.5 529.5,559.0 532.5,568.0 525.0,576.2 516.8,577.0 508.5,571.0 504.8,562.0 507.8,553.0Z" stroke-width="1.9"/>
<path d="M514.5,553.0 522.0,556.8 525.0,563.5 523.5,571.0 515.2,571.0 510.0,563.5 509.2,557.5Z" stroke-width="1.0"/>
<path d="M514.2,558.2 516.0,559.8 514.2,562.0 512.7,559.8Z" stroke-width="1.0"/>
<path d="M513.8,543.2 523.5,546.2 531.0,551.5 535.5,557.5 540.0,563.5 549.0,566.5 558.0,570.2 561.0,577.0 555.0,581.5 546.0,578.5 537.0,577.0 529.5,581.5 522.0,583.0 513.0,580.0 505.5,574.0 501.8,566.5 501.0,557.5 504.0,550.0 508.5,544.8Z" stroke-width="1.0"/>
<path d="M606.0,511.0 608.2,520.0 607.5,532.0 604.5,544.0 598.5,554.5 589.5,562.0 579.0,568.8 570.0,560.5 561.0,554.5 552.0,551.5 541.5,550.8 534.0,547.0 525.0,541.0 513.0,538.0 505.5,541.8 499.5,548.5 496.5,557.5 497.2,568.0 501.0,577.0 507.8,584.5 515.2,590.5 517.5,598.0 517.5,610.0 523.5,616.0 526.5,608.5 528.0,601.0 534.0,595.0 540.0,592.8 546.0,592.0 553.5,595.0 559.5,601.0 561.0,610.0 561.0,619.0 562.5,626.5 567.0,634.0 571.5,641.5 577.5,649.0 580.5,658.0 581.2,667.0 577.5,673.0 573.0,677.5 571.5,685.0 572.2,691.0" stroke-width="1.0"/>
<path d="M507.0,530.5 499.5,536.5 495.0,544.0 492.8,554.5 493.5,565.0 496.5,574.0 502.5,583.0" stroke-width="1.0"/>
<path d="M562.5,511.0 564.0,520.0 565.5,530.5 567.0,539.5 573.0,545.5 579.0,550.0 585.0,545.5 589.5,541.0 592.5,530.5 594.0,520.0 593.2,511.0" stroke-width="1.0"/>
<path d="M527.2,511.0 528.0,517.0 525.0,521.5 517.5,524.5 511.5,526.8 508.5,529.0" stroke-width="1.0"/>
<path d="M643.5,535.0 646.5,539.5 648.0,545.5 646.5,553.0 642.0,562.0 638.2,569.5 637.5,578.5 636.0,589.0 634.5,596.5 631.5,601.0 624.0,604.8 616.5,608.5 609.0,613.0 601.5,616.0 592.5,616.8 583.5,616.0 577.5,613.0 575.2,605.5 576.0,598.0 580.5,592.0 588.0,587.5 597.0,584.5 604.5,581.5 612.0,577.0 616.5,571.0 618.0,562.0 618.8,553.0 621.8,544.0 627.0,538.0 633.0,534.2 639.0,533.8Z" stroke-width="1.9"/>
<path d="M627.0,547.8 631.5,542.5 643.5,544.8 640.5,551.5 636.0,556.0 631.5,560.5 628.5,553.0Z" stroke-width="1.0"/>
<path d="M610.5,591.2 618.0,586.0 625.5,585.2 632.2,584.5 632.2,592.0 625.5,595.8 618.8,596.5Z" stroke-width="1.0"/>
<path d="M587.2,601.0 592.5,596.5 599.2,593.5 603.0,598.8 606.0,602.5 598.5,604.8 591.0,605.5Z" stroke-width="1.0"/>
<path d="M646.5,511.0 643.5,514.0 639.0,518.5 633.0,523.0 625.5,527.5 618.0,533.5 615.0,541.0 613.5,551.5 612.0,560.5 609.0,568.0 601.5,572.5 591.0,577.0 582.0,581.5 574.5,586.0 568.5,592.0 567.8,598.0 568.5,607.0 571.5,616.0 577.5,622.0 585.0,624.2 591.0,625.0 597.0,629.5 604.5,632.5 610.5,629.5 618.0,620.5 624.0,613.0 633.0,607.0 639.0,599.5 642.0,590.5 643.5,580.0 644.2,569.5 648.0,560.5 651.8,551.5 652.5,541.0 649.5,533.5 645.0,526.0 643.5,517.0" stroke-width="1.0"/>
<path d="M654.0,595.0 649.5,604.0 643.5,613.0 636.0,620.5 628.5,628.0 622.5,635.5 618.0,643.0 615.0,650.5 610.5,656.5 609.8,665.5 613.5,673.0 618.0,679.0 622.5,685.0 624.0,691.0" stroke-width="1.0"/>
<path d="M654.0,614.5 648.0,622.0 642.0,631.0 636.0,638.5 631.5,646.0 627.0,653.5 622.5,661.0 621.8,667.0 625.5,674.5 630.0,682.0 633.0,691.0" stroke-width="1.0"/>
<path d="M599.2,641.5 600.0,650.5 599.2,659.5 594.0,658.8 588.8,657.2 588.8,649.0 594.0,644.5Z" stroke-width="1.0"/>
<path d="M561.0,655.8 567.8,654.2 568.5,667.8 564.8,662.5Z" stroke-width="1.0"/>
<path d="M546.0,604.8 549.0,611.5 550.5,620.5 552.0,629.5 555.8,638.5 558.8,646.0 556.5,653.5 549.0,648.2 541.5,643.0 535.5,638.5 533.2,631.0 534.0,623.5 538.5,616.0 543.0,608.5Z" stroke-width="1.0"/>
<path d="M474.0,644.5 483.0,647.5 493.5,644.5 501.8,637.8 508.5,638.5 513.8,636.2 520.5,641.5 528.0,646.0 534.0,652.0 541.5,658.0 547.5,661.0 552.0,667.0 554.2,676.0 553.5,685.0 552.0,691.0" stroke-width="1.0"/>
<path d="M474.0,658.8 481.5,659.5 489.0,656.5 496.5,650.5 504.0,646.0 513.8,643.8 522.0,649.0 531.0,655.0 538.5,662.5 544.5,668.5 547.5,676.0 548.2,683.5 546.0,691.0" stroke-width="1.0"/>
<path d="M474.0,676.0 480.0,673.0 487.5,668.5 495.0,662.5 502.5,656.5 513.8,652.8 523.5,657.2 531.0,662.5 537.0,670.0 542.2,677.5 537.0,683.5 531.0,688.0 525.0,691.0" stroke-width="1.9"/>
<path d="M474.0,689.5 481.5,683.5 490.5,676.0 498.0,668.5 505.5,662.5 513.8,659.5 522.0,663.2 528.0,668.5 531.0,674.5 526.5,680.5 519.0,685.0 513.0,691.0" stroke-width="1.0"/>
<path d="M502.5,676.0 508.5,668.5 514.5,664.8 519.0,670.0 518.2,677.5 511.5,679.8Z" stroke-width="1.0"/>
<path d="M585.0,691.0 586.5,683.5 592.5,679.0 601.5,678.2 609.0,682.0 613.5,691.0" stroke-width="1.9"/></g>
<clipPath id="c6"><rect x="364" y="691" width="230" height="170"/></clipPath><g clip-path="url(#c6)"><path d="M480.0,703.5 492.0,699.0 495.8,709.5 499.5,720.0 501.0,729.0 492.0,738.8 484.5,729.0 480.0,718.5 477.8,709.5Z" stroke-width="1.0"/>
<path d="M474.0,700.5 481.5,694.5 492.0,691.5 499.5,696.0 504.0,706.5 505.5,718.5 506.2,730.5 501.0,739.5 493.5,747.0 486.0,741.0 480.0,732.0 475.5,721.5 471.0,711.0 469.5,708.0Z" stroke-width="1.0"/>
<path d="M492.0,681.0 484.5,684.0 474.0,690.0 465.0,697.5 463.5,705.0 466.5,715.5 472.5,727.5 475.5,736.5 480.0,745.5 486.0,753.0 492.8,759.8 499.5,753.0 507.0,744.0 511.5,735.0 513.0,726.0 510.0,715.5 507.8,705.0 507.0,696.0 511.5,690.0 519.0,687.0 528.0,684.0 535.5,681.0" stroke-width="1.9"/>
<path d="M457.5,690.0 454.5,700.5 456.0,711.0 460.5,721.5 465.0,732.0 465.0,741.0 472.5,747.0 477.0,757.5 481.5,768.0 492.0,771.0 496.5,765.0 504.0,756.0 513.0,748.5 519.0,741.0 521.2,730.5 519.0,721.5 516.0,712.5 514.5,703.5 516.0,697.5 523.5,694.5 532.5,691.5 541.5,687.0 547.5,681.0" stroke-width="1.0"/>
<path d="M448.5,681.0 444.0,690.0 441.8,700.5 442.5,711.0 445.5,723.0 444.8,735.0 444.0,747.0 443.2,759.0 438.0,768.0 429.0,774.0 421.5,780.0 414.0,786.0" stroke-width="1.0"/>
<path d="M433.5,681.0 429.0,690.0 426.0,700.5 424.5,711.0 426.0,723.0 429.0,733.5 428.2,744.0 423.0,753.0 417.0,760.5 414.0,765.0" stroke-width="1.0"/>
<path d="M552.0,681.0 550.5,688.5 544.5,693.0 534.0,697.5 526.5,702.0 524.2,709.5 528.0,717.0 534.0,723.0 540.0,729.0 544.5,735.0 546.8,738.8 555.0,736.5 562.5,730.5 570.0,723.0 576.0,714.0 579.0,705.0 580.5,696.0 579.0,687.0 577.5,681.0" stroke-width="1.0"/>
<path d="M556.5,693.8 561.0,700.5 560.2,711.0 556.5,720.8 550.5,717.0 544.5,710.2 549.0,702.0Z" stroke-width="1.0"/>
<path d="M594.0,691.5 590.2,702.0 585.8,712.5 580.5,721.5 574.5,729.0 568.5,735.0 563.2,741.0 559.5,748.5 557.2,757.5 555.8,766.5 555.3,775.5 556.5,781.8 565.5,780.0 574.5,777.8 582.0,773.2 586.5,765.8 588.8,756.8 588.0,747.8 585.0,741.0" stroke-width="1.9"/>
<path d="M577.5,735.0 582.0,741.0 585.0,750.0 585.0,759.0 580.5,768.0 573.0,771.0 567.0,768.0 564.0,760.5 564.0,751.5 567.0,744.0 571.5,738.0Z" stroke-width="1.0"/>
<path d="M576.8,744.0 580.5,748.5 581.2,757.5 578.2,765.0 573.0,766.5 568.5,762.0 567.0,754.5 570.0,748.5Z" stroke-width="1.0"/>
<path d="M514.5,762.8 522.0,767.2 530.2,771.8 530.2,780.0 528.0,789.0 525.0,796.5 519.0,795.0 513.0,790.5 508.5,783.0 507.0,774.0 510.0,766.5Z" stroke-width="1.0"/>
<path d="M558.0,738.0 553.5,745.5 549.0,756.0 544.5,768.0 541.5,778.5 540.0,789.0 535.5,799.5 528.0,805.5 519.0,807.0 511.5,804.0 504.0,798.0 495.0,792.0 486.0,787.5 477.0,784.5 468.0,780.0 459.0,777.0 450.0,775.5 441.0,778.5 433.5,784.5 427.5,792.0 423.0,801.0 421.5,811.5 424.5,822.0 429.0,829.5 436.5,834.0 444.0,838.5 453.0,841.5 462.0,840.0 471.0,837.0 480.0,838.5 487.5,844.5 492.0,853.5 493.5,861.0" stroke-width="1.0"/>
<path d="M555.0,786.0 549.0,796.5 541.5,805.5 532.5,810.0 523.5,811.5 516.0,811.5 508.5,807.0 499.5,802.5 490.5,798.0 481.5,795.0 472.5,792.0 463.5,789.0 454.5,786.8 445.5,787.5 438.0,792.0 432.8,799.5 430.5,808.5 432.0,817.5 436.5,825.0 444.0,829.5 451.5,831.0 460.5,829.5 469.5,828.8 478.5,829.5 486.0,834.0 492.0,840.0 496.5,847.5 499.5,855.0 501.0,861.0" stroke-width="1.9"/>
<path d="M449.2,799.5 459.0,799.5 466.5,802.5 470.2,810.0 471.0,816.0 465.0,819.0 457.5,820.5 450.8,819.0 446.2,813.0 445.5,805.5Z" stroke-width="1.0"/>
<path d="M507.0,861.0 505.5,850.5 504.0,840.0 502.5,831.0 498.0,823.5 492.0,817.5 484.5,813.0 477.0,807.0 469.5,799.5 462.0,795.8 453.0,794.2 444.0,796.5 439.5,802.5 438.0,810.0 441.0,817.5 447.0,823.5 454.5,825.8 463.5,824.2 472.5,822.0 480.0,822.8" stroke-width="1.0"/>
<path d="M504.0,799.5 513.0,805.5 522.0,808.5 532.5,807.0 538.5,801.0 544.5,792.0 550.5,784.5" stroke-width="1.0"/>
<path d="M505.5,816.0 514.5,817.5 525.0,816.8 534.0,816.0 541.5,814.5 546.0,816.0" stroke-width="1.0"/>
<path d="M526.5,831.0 535.5,825.0 540.0,831.0 543.0,837.0 537.0,843.0 532.5,843.8 523.5,837.0Z" stroke-width="1.9"/>
<path d="M529.5,832.5 534.8,828.8 538.5,834.0 539.2,837.8 535.5,840.0 531.0,838.5Z" stroke-width="1.0"/>
<path d="M517.5,826.5 526.5,822.8 535.5,820.5 541.5,823.5 546.0,831.0 547.5,840.0 544.5,847.5 537.0,850.5 528.0,849.0 520.5,843.0 516.8,835.5Z" stroke-width="1.0"/>
<path d="M555.0,786.0 552.8,795.0 555.0,804.0 555.8,813.0 554.2,823.5 555.0,834.0 557.2,844.5 559.5,853.5 560.2,861.0" stroke-width="1.9"/>
<path d="M564.0,786.0 561.0,796.5 562.5,807.0 564.0,817.5 564.0,828.0 565.5,838.5 568.5,849.0 570.0,861.0" stroke-width="1.0"/>
<path d="M549.0,820.5 550.5,831.0 551.2,841.5 552.8,852.0 553.5,861.0" stroke-width="1.0"/>
<path d="M580.5,784.5 577.5,792.0 570.0,799.5 565.5,808.5" stroke-width="1.0"/>
<path d="M465.0,861.0 468.0,852.0 474.0,846.0 481.5,845.2 487.5,852.0 490.5,861.0" stroke-width="1.0"/>
<path d="M573.0,827.2 579.0,822.8 585.0,825.0 591.0,824.2 585.0,829.5 579.0,833.2Z" stroke-width="1.0"/></g>
<clipPath id="c7"><rect x="585" y="691" width="139" height="170"/></clipPath><g clip-path="url(#c7)"><path d="M592.0,687.0 599.5,684.8 607.0,687.0 608.5,694.5 604.0,699.0 596.5,701.2 593.5,696.0Z" stroke-width="1.0"/>
<path d="M607.0,681.0 611.5,687.0 613.8,694.5 611.5,702.0 604.0,708.0 596.5,714.0 592.0,720.0 590.5,729.0 585.0,741.0" stroke-width="1.9"/>
<path d="M616.0,681.0 619.0,688.5 620.5,696.0 617.5,703.5 610.0,709.5 602.5,715.5 598.0,723.0 596.5,732.0 598.0,741.0 596.5,751.5 595.0,762.0 592.0,771.0 587.5,778.5 581.5,786.0" stroke-width="1.0"/>
<path d="M622.0,681.0 625.0,688.5 625.8,697.5 622.0,705.0 614.5,711.0 607.0,718.5 604.0,726.0 602.5,735.0 604.0,744.0 602.5,754.5 599.5,765.0 596.5,774.0 595.0,783.0 593.5,792.0 589.0,801.0 584.5,807.0" stroke-width="1.0"/>
<path d="M632.5,681.0 634.0,690.0 634.0,700.5 631.0,709.5 628.0,718.5 625.8,729.0 625.0,741.0 622.0,748.5 616.0,756.0 610.0,763.5 607.8,771.0 608.5,780.0 611.5,787.5 617.5,793.5 625.0,799.5 631.0,805.5 635.5,813.0 640.0,822.0 643.0,831.0 646.0,840.0 649.0,850.5 651.2,861.0" stroke-width="1.0"/>
<path d="M589.0,861.0 590.5,849.0 592.0,840.0 595.0,831.0 598.0,825.0 604.0,819.0 610.0,813.0 616.0,811.5 620.5,810.0 625.0,816.0 629.5,823.5 632.5,832.5 635.5,843.0 637.8,852.0 639.2,861.0" stroke-width="1.0"/>
<path d="M604.0,861.0 605.5,853.5 608.5,846.0 611.5,838.5 616.0,831.0 621.2,824.2 623.5,832.5 625.8,841.5 628.0,850.5 630.2,861.0" stroke-width="1.0"/></g>
<clipPath id="c8"><rect x="364" y="861" width="180" height="170"/></clipPath><g clip-path="url(#c8)"><path d="M364.0,866.0 373.0,860.0 382.0,855.5 389.5,851.0" stroke-width="1.0"/>
<path d="M364.0,892.2 371.5,884.0 380.5,876.5 391.0,869.0 403.0,865.2 415.0,866.0 427.0,869.0 439.0,871.2 445.0,876.5 452.5,882.5 461.5,887.0 470.5,890.8 478.0,894.5 484.0,896.0 491.5,893.0 497.5,888.5 502.0,881.0 499.0,872.0 496.0,863.0 494.5,851.0" stroke-width="1.0"/>
<path d="M364.0,917.0 371.5,909.5 380.5,902.0 391.0,896.8 403.0,894.5 413.5,895.2 424.0,899.0 433.0,901.2 442.0,899.0 451.0,896.0 460.0,895.2 469.0,898.2 478.0,902.8 487.0,905.0 496.0,902.0 505.0,899.0 512.5,897.5" stroke-width="1.9"/>
<path d="M364.0,935.0 373.0,927.5 383.5,921.5 395.5,918.5 407.5,918.2 418.0,919.2 428.5,922.2 439.0,921.5 446.5,915.5 454.0,909.5 461.5,906.5 470.5,908.0 479.5,911.8 479.5,921.5 475.0,929.0 470.5,933.5 478.0,935.0 488.5,929.0 497.5,921.5 503.5,913.2 514.0,912.5 514.0,920.0" stroke-width="1.0"/>
<path d="M364.0,950.0 373.0,942.5 383.5,937.2 395.5,934.2 407.5,933.5 418.0,935.8 428.5,939.5 439.0,941.0 451.0,941.0 454.0,947.0 461.5,953.0 472.0,951.5 482.5,944.0 493.0,938.0 502.0,932.8 505.0,938.0 508.0,944.0" stroke-width="1.0"/>
<path d="M364.0,965.0 373.0,957.5 383.5,952.2 395.5,949.2 407.5,949.2 416.5,953.0 427.0,963.5 436.0,969.5 441.2,972.5 442.0,978.5 439.8,986.0 439.0,995.0 438.2,1007.0 437.5,1016.0 434.5,1023.5 430.0,1031.0" stroke-width="1.0"/>
<path d="M364.0,983.0 370.0,974.0 377.5,968.0 386.5,964.2 397.0,962.8 407.5,963.5 416.5,967.2 424.0,974.0 428.5,983.0 428.5,995.0 430.8,1007.0 428.5,1016.0 422.5,1023.5 416.5,1028.0 409.0,1031.0" stroke-width="1.9"/>
<path d="M364.0,1013.0 371.5,1020.5 379.0,1025.8 386.5,1029.5 391.0,1031.0" stroke-width="1.9"/>
<path d="M388.0,987.5 397.0,984.5 406.0,983.8 414.2,987.5 415.0,998.0 417.2,1007.8 407.5,1012.2 395.5,1012.2 387.2,1007.8 388.0,998.0Z" stroke-width="1.0"/>
<path d="M508.0,944.0 502.0,947.0 493.0,953.0 484.0,958.2 475.0,959.0 466.0,966.5 471.2,974.0 479.5,971.0 488.5,968.8 496.0,962.0 503.5,956.0 510.2,950.0 514.0,944.0" stroke-width="1.0"/>
<path d="M448.0,1031.0 451.0,1023.5 455.5,1017.5 461.5,1013.0 469.0,1012.2 475.0,1007.0 479.5,999.5 484.0,992.0 488.5,986.0 494.5,978.5 500.5,972.5 506.5,966.5 512.5,959.0 517.0,950.0 520.0,939.5 523.0,929.0 525.2,918.5 527.5,908.0 529.0,899.0 526.0,896.0" stroke-width="1.9"/>
<path d="M442.0,1031.0 445.0,1022.0 449.5,1014.5 455.5,1008.5 463.0,1005.5 469.0,1004.0 473.5,999.5 476.5,992.0 481.0,984.5 487.0,978.5 493.0,971.0 499.0,965.0 505.0,959.0 511.0,953.0 514.8,945.5" stroke-width="1.0"/>
<path d="M454.0,1031.0 458.5,1023.5 464.5,1017.5 472.0,1014.5 478.0,1010.0 482.5,1002.5 487.0,995.0 491.5,989.0 497.5,981.5 503.5,975.5 509.5,969.5 515.5,962.0 520.0,953.0 523.0,942.5 526.0,932.0 529.0,921.5 530.5,911.0 533.5,902.0 536.5,891.5 539.5,884.0 544.0,878.0" stroke-width="1.0"/>
<path d="M461.5,1031.0 466.0,1025.0 472.0,1020.5 479.5,1017.5 484.0,1011.5 488.5,1004.0 493.0,998.0 499.0,990.5 505.0,984.5 511.0,978.5 517.0,972.5 523.0,966.5 527.5,957.5 530.5,947.0 533.5,935.0 536.5,923.0 538.8,911.0 541.8,900.5 544.0,894.5" stroke-width="1.0"/>
<path d="M478.0,1031.0 482.5,1023.5 487.0,1017.5 491.5,1010.0 496.0,1004.0 500.5,998.0 506.5,992.0" stroke-width="1.0"/>
<path d="M437.5,1031.0 440.5,1025.0 445.0,1016.0 447.2,1007.0 448.0,997.2 457.0,997.2 466.0,995.0 472.0,989.0 476.5,983.0 482.5,978.5" stroke-width="1.0"/>
<path d="M512.5,875.8 517.0,875.0 521.5,878.0 526.0,882.5 526.8,888.5 525.2,894.5 520.0,898.2 515.5,896.0 512.5,890.0 508.8,884.8 508.0,881.0Z" stroke-width="1.9"/>
<path d="M505.0,864.5 509.5,870.5 514.0,875.0" stroke-width="1.0"/>
<path d="M526.0,882.5 533.5,884.8 538.0,879.5 544.0,877.2" stroke-width="1.9"/>
<path d="M506.5,851.0 508.0,857.0 514.0,863.0 523.0,866.0 532.0,867.5 538.0,869.0 544.0,869.8" stroke-width="1.0"/>
<path d="M520.0,851.0 526.0,854.0 535.0,856.2 544.0,857.8" stroke-width="1.0"/>
<path d="M484.0,851.0 476.5,852.5 467.5,854.8 461.5,857.0 463.8,866.0 469.0,873.5 475.0,881.0 482.5,885.5 491.5,879.5 493.0,870.5 491.5,861.5 488.5,851.0" stroke-width="1.0"/>
<path d="M527.5,998.0 529.0,1007.0 533.5,1014.5 541.0,1017.5 544.0,1018.2" stroke-width="1.0"/></g>
<clipPath id="c9"><rect x="544" y="861" width="180" height="170"/></clipPath><g clip-path="url(#c9)"><path d="M590.0,851.0 587.0,860.0 582.5,870.5 578.0,881.0 573.5,891.5 570.5,902.0 569.0,912.5 567.5,923.0 564.5,932.0 560.0,941.0 557.0,944.8 554.0,939.5 551.0,932.0 549.5,921.5 550.2,911.0 552.5,900.5 554.0,890.0 558.5,881.0 564.5,872.0 569.0,863.0 572.0,851.0" stroke-width="1.0"/>
<path d="M603.5,851.0 600.5,858.5 597.5,867.5 594.5,878.0 591.5,888.5 587.0,899.0 584.0,908.0 581.8,917.0 581.0,926.0 583.2,935.0 584.0,944.0 584.0,953.0 581.0,962.0 578.0,971.0 575.8,980.0 575.0,990.5 575.8,1001.0 576.5,1010.0 579.5,1017.5 585.5,1023.5 590.0,1026.5 591.5,1031.0" stroke-width="1.0"/>
<path d="M629.0,851.0 632.0,860.0 633.5,870.5 633.5,881.0 635.0,891.5 639.5,900.5 641.0,911.0 641.8,921.5 639.5,932.0 632.0,939.5 621.5,942.5 618.5,950.0 615.5,959.0 611.0,968.0 605.8,977.0 605.0,986.0 605.8,995.0 605.0,1004.0 602.0,1013.0 597.5,1019.0 594.5,1025.0 593.8,1031.0" stroke-width="1.0"/>
<path d="M641.0,851.0 642.5,860.0 644.0,870.5 645.5,881.0 648.5,890.0 653.0,899.0 656.0,908.0 657.5,918.5 656.8,929.0 654.5,938.0 650.0,945.5 641.0,950.0 632.0,954.5 627.5,963.5 623.0,972.5 617.0,978.5 614.0,986.0 614.0,995.0 616.2,1004.0 617.0,1013.0 615.5,1022.0 614.0,1031.0" stroke-width="1.0"/>
<path d="M650.0,851.0 651.5,863.0 652.2,875.0 653.3,887.0 656.8,896.0 659.8,903.5" stroke-width="1.0"/>
<path d="M654.5,948.5 647.0,954.5 639.5,962.0 632.0,971.0 624.5,980.0 620.0,987.5 618.5,996.5 620.0,1005.5 621.5,1014.5 620.0,1023.5 618.5,1031.0" stroke-width="1.0"/>
<path d="M586.2,1007.0 585.5,998.0 586.2,989.0 590.0,984.5 594.5,986.8 597.5,993.5 598.2,999.5 596.0,1005.5 593.0,1010.0 589.2,1012.2Z" stroke-width="1.9"/>
<path d="M538.2,977.0 546.5,971.8 551.0,977.0 556.2,986.8 555.5,993.5 546.5,1002.5 540.5,998.8 538.2,990.5Z" stroke-width="1.0"/>
<path d="M527.0,989.0 530.0,1001.0 536.0,1010.0 546.5,1013.0 557.0,1010.0 564.5,1014.5 569.0,1022.0 570.5,1031.0" stroke-width="1.0"/>
<path d="M544.0,877.2 546.5,873.5 554.0,867.5 557.0,860.0 558.5,851.0" stroke-width="1.9"/>
<path d="M544.0,867.5 548.0,866.0 551.8,858.5 552.5,851.0" stroke-width="1.0"/>
<path d="M564.5,851.0 563.0,860.0 558.5,869.0 552.5,876.5 546.5,885.5 542.0,896.0 539.0,908.0 536.0,920.0 533.0,932.0 530.0,944.0 527.0,953.0 524.0,956.0" stroke-width="1.0"/></g>
<clipPath id="c10"><rect x="364" y="1031" width="360" height="85"/></clipPath><g clip-path="url(#c10)"><path d="M364.0,1031.0 379.0,1036.0 396.5,1041.0 414.0,1041.0 426.5,1033.5 434.0,1026.0 437.8,1021.0" stroke-width="1.0"/>
<path d="M364.0,1042.2 379.0,1047.2 396.5,1052.2 414.0,1052.2 429.0,1043.5 439.0,1033.5 444.0,1026.0 446.5,1021.0" stroke-width="1.0"/>
<path d="M364.0,1053.5 379.0,1058.5 396.5,1062.2 414.0,1062.2 430.2,1056.0 441.5,1046.0 449.0,1036.0 452.8,1028.5 455.2,1021.0" stroke-width="1.0"/>
<path d="M364.0,1066.0 379.0,1069.8 396.5,1072.2 414.0,1071.0 431.5,1064.8 444.0,1056.0 451.5,1046.0 456.5,1036.0 460.2,1026.0 461.5,1021.0" stroke-width="1.9"/>
<path d="M364.0,1078.5 381.5,1081.0 401.5,1082.2 419.0,1079.8 436.5,1071.0 449.0,1061.0 459.0,1048.5 466.5,1038.5 474.0,1028.5 479.0,1021.0" stroke-width="1.0"/>
<path d="M364.0,1093.5 384.0,1093.5 406.5,1089.8 426.5,1083.5 444.0,1074.8 459.0,1066.0 471.5,1058.5 484.0,1056.0 496.5,1052.2 504.0,1051.0 514.0,1051.5 526.5,1056.0 539.0,1059.8 554.0,1061.0 571.5,1058.5 586.5,1057.2 599.0,1053.5 604.0,1046.0 606.5,1036.0 610.2,1028.5 614.0,1021.0" stroke-width="1.0"/>
<path d="M371.5,1114.8 389.0,1109.8 409.0,1104.8 426.5,1099.8 441.5,1096.0 451.5,1088.5 461.5,1078.5 471.5,1071.0 481.5,1063.5" stroke-width="1.0"/>
<path d="M569.0,1021.0 571.5,1026.0 581.5,1029.8 589.0,1032.2 596.5,1026.0 600.2,1021.0" stroke-width="1.0"/></g>
<clipPath id="c11"><rect x="404" y="601" width="70" height="90"/></clipPath><g clip-path="url(#c11)"><path d="M505.0,627.0 504.0,632.0 501.0,636.0 497.0,641.0 493.0,645.0 489.0,646.5 483.0,648.0 478.0,646.0 472.0,643.5 466.0,643.0 460.5,642.0 456.0,644.0 451.0,648.0 447.0,653.0 444.0,659.0 441.5,665.0 439.0,671.0 436.0,678.0 433.0,684.0 430.0,691.0 427.0,698.0" stroke-width="1.0"/>
<path d="M508.0,641.0 504.0,645.0 500.0,648.0 496.0,651.0 491.0,654.0 486.0,657.0 481.0,660.0 476.0,657.5 471.0,655.0 466.0,655.5 460.0,656.0 458.0,661.0 456.0,667.0 453.0,674.0 450.0,681.0 447.0,688.0 444.0,695.0" stroke-width="1.0"/>
<path d="M504.0,651.0 500.0,655.0 497.0,659.0 493.0,663.0 489.0,667.0 485.0,671.0 480.0,674.0 476.0,676.0 472.0,679.0 468.0,683.0 464.0,687.0 460.0,691.0 457.0,696.0" stroke-width="1.0"/>
<path d="M499.0,663.0 495.0,669.0 491.0,674.0 486.0,679.0 482.0,682.0 477.0,686.0 472.0,690.0 468.0,694.0 465.0,697.0" stroke-width="1.9"/>
<path d="M499.0,672.0 495.0,677.0 491.0,682.0 486.0,687.0 482.0,691.0 478.0,696.0" stroke-width="1.0"/></g></g>
<text x="337.8" y="191.0" font-size="17" font-weight="bold" class="k" stroke-width="0.4">41N</text>
<text x="334.0" y="388.8" font-size="17" font-weight="bold" class="k" stroke-width="0.4">40N</text>
<text x="329.7" y="587.7" font-size="17" font-weight="bold" class="k" stroke-width="0.4">39N</text>
<text x="325.8" y="785.5" font-size="17" font-weight="bold" class="k" stroke-width="0.4">38N</text>
<text x="379.0" y="984.0" font-size="17" font-weight="bold" class="k" stroke-width="0.4">37N</text>
<text x="818.0" y="193.0" font-size="17" font-weight="bold" class="k" stroke-width="0.4">41N</text>
<text x="820.0" y="390.8" font-size="17" font-weight="bold" class="k" stroke-width="0.4">40N</text>
<text x="821.0" y="590.0" font-size="17" font-weight="bold" class="k" stroke-width="0.4">39N</text>
<text x="823.0" y="788.0" font-size="17" font-weight="bold" class="k" stroke-width="0.4">38N</text>
<text x="824.8" y="986.3" font-size="17" font-weight="bold" class="k" stroke-width="0.4">37N</text>
<text x="501.8" y="1114" font-size="16" font-weight="bold" text-anchor="middle" class="k" stroke-width="0.6">140E</text>
<text x="660.7" y="1114" font-size="16" font-weight="bold" text-anchor="middle" class="k" stroke-width="0.6">141E</text>
<line x1="511.9" y1="132" x2="502.6" y2="1116" stroke="#fff" stroke-width="1" shape-rendering="crispEdges"/>
<line x1="661.9" y1="132" x2="660.4" y2="1116" stroke="#fff" stroke-width="1" shape-rendering="crispEdges"/>
<line x1="812.1" y1="132" x2="820.9" y2="1116" stroke="#fff" stroke-width="1" shape-rendering="crispEdges"/>
<polyline points="364.0,185.6 440.0,186.3 520.0,186.8 600.0,187.1 680.0,187.2 760.0,187.0 835.0,186.4" fill="none" stroke="#fff" stroke-width="1" shape-rendering="crispEdges"/>
<polyline points="364.0,383.2 440.0,384.5 520.0,385.4 600.0,386.0 680.0,386.2 760.0,386.0 835.0,385.4" fill="none" stroke="#fff" stroke-width="1" shape-rendering="crispEdges"/>
<polyline points="364.0,581.4 440.0,582.7 520.0,583.6 600.0,584.2 680.0,584.4 760.0,584.2 835.0,583.6" fill="none" stroke="#fff" stroke-width="1" shape-rendering="crispEdges"/>
<polyline points="364.0,779.4 440.0,780.6 520.0,781.6 600.0,782.1 680.0,782.3 760.0,782.1 835.0,781.5" fill="none" stroke="#fff" stroke-width="1" shape-rendering="crispEdges"/>
<polyline points="364.0,978.2 440.0,979.2 520.0,980.0 600.0,980.4 680.0,980.6 760.0,980.4 835.0,979.8" fill="none" stroke="#fff" stroke-width="1" shape-rendering="crispEdges"/>
<path d="M418 1061.6H781.2V185.3H418Z" fill="none" stroke="#fff" stroke-width="2.4" stroke-dasharray="15.24 7"/>
</g>
<rect x="364.5" y="132.5" width="470" height="983" fill="none" stroke="#000" stroke-width="1" shape-rendering="crispEdges"/>
<rect x="132.50" y="1146.5" width="42.45" height="10" fill="#0000f0" stroke="#000" stroke-width="1"/>
<rect x="174.95" y="1146.5" width="42.45" height="10" fill="#0040f0" stroke="#000" stroke-width="1"/>
<rect x="217.41" y="1146.5" width="42.45" height="10" fill="#0088f8" stroke="#000" stroke-width="1"/>
<rect x="259.86" y="1146.5" width="42.45" height="10" fill="#00c8f8" stroke="#000" stroke-width="1"/>
<rect x="302.32" y="1146.5" width="42.45" height="10" fill="#00e8e0" stroke="#000" stroke-width="1"/>
<rect x="344.77" y="1146.5" width="42.45" height="10" fill="#00d890" stroke="#000" stroke-width="1"/>
<rect x="387.23" y="1146.5" width="42.45" height="10" fill="#00c040" stroke="#000" stroke-width="1"/>
<rect x="429.68" y="1146.5" width="42.45" height="10" fill="#10a810" stroke="#000" stroke-width="1"/>
<rect x="472.14" y="1146.5" width="42.45" height="10" fill="#48b810" stroke="#000" stroke-width="1"/>
<rect x="514.59" y="1146.5" width="42.45" height="10" fill="#90d010" stroke="#000" stroke-width="1"/>
<rect x="557.05" y="1146.5" width="42.45" height="10" fill="#d0e810" stroke="#000" stroke-width="1"/>
<rect x="599.50" y="1146.5" width="42.45" height="10" fill="#fff000" stroke="#000" stroke-width="1"/>
<rect x="641.95" y="1146.5" width="42.45" height="10" fill="#ffd800" stroke="#000" stroke-width="1"/>
<rect x="684.41" y="1146.5" width="42.45" height="10" fill="#ffb800" stroke="#000" stroke-width="1"/>
<rect x="726.86" y="1146.5" width="42.45" height="10" fill="#ff9800" stroke="#000" stroke-width="1"/>
<rect x="769.32" y="1146.5" width="42.45" height="10" fill="#ff7000" stroke="#000" stroke-width="1"/>
<rect x="811.77" y="1146.5" width="42.45" height="10" fill="#ff4800" stroke="#000" stroke-width="1"/>
<rect x="854.23" y="1146.5" width="42.45" height="10" fill="#ff1800" stroke="#000" stroke-width="1"/>
<rect x="896.68" y="1146.5" width="42.45" height="10" fill="#e80010" stroke="#000" stroke-width="1"/>
<rect x="939.14" y="1146.5" width="42.45" height="10" fill="#c00030" stroke="#000" stroke-width="1"/>
<rect x="981.59" y="1146.5" width="42.45" height="10" fill="#900060" stroke="#000" stroke-width="1"/>
<rect x="1024.05" y="1146.5" width="42.45" height="10" fill="#600090" stroke="#000" stroke-width="1"/>
<text x="175.0" y="1179.3" font-size="23.4" text-anchor="middle" class="k" stroke-width="0.8">-8000</text>
<text x="302.3" y="1179.3" font-size="23.4" text-anchor="middle" class="k" stroke-width="0.8">-6500</text>
<text x="429.7" y="1179.3" font-size="23.4" text-anchor="middle" class="k" stroke-width="0.8">-5000</text>
<text x="557.0" y="1179.3" font-size="23.4" text-anchor="middle" class="k" stroke-width="0.8">-3500</text>
<text x="684.4" y="1179.3" font-size="23.4" text-anchor="middle" class="k" stroke-width="0.8">-2000</text>
<text x="811.8" y="1179.3" font-size="23.4" text-anchor="middle" class="k" stroke-width="0.8">-500</text>
<text x="939.1" y="1179.3" font-size="23.4" text-anchor="middle" class="k" stroke-width="0.8">1000</text>
<text x="85" y="1168" font-size="23.2" class="k" stroke-width="0.8">[ft]</text>
<text x="1088.5" y="1168" font-size="23.2" class="k" stroke-width="0.8">[ft]</text>
<text x="629.3" y="1136.8" font-size="19.2" class="k" stroke-width="0.7" textLength="199.5" lengthAdjust="spacingAndGlyphs">Terrain contours: 500 ft</text>
</svg>
</body></html>
